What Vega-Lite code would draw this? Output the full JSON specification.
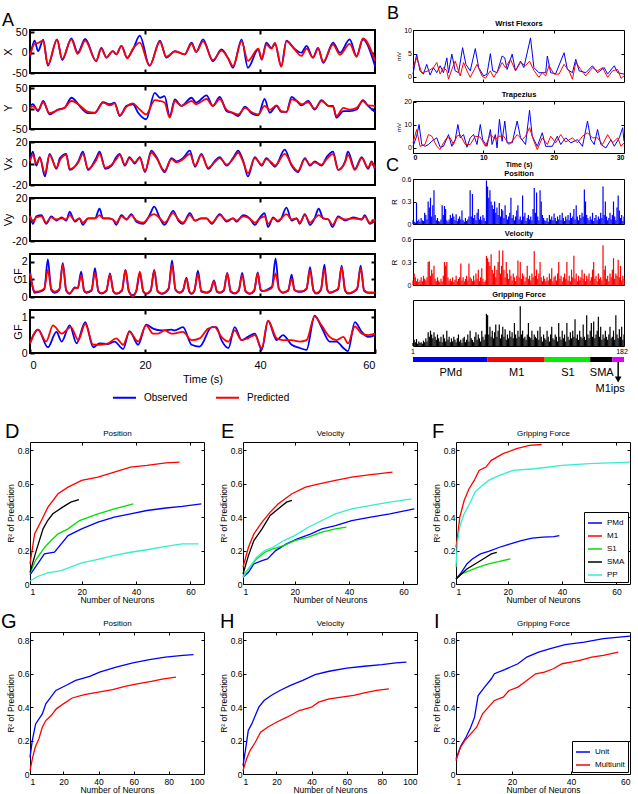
{
"$schema":"https://vega.github.io/schema/vega-lite/v6.json",
"padding":{"left":0,"top":4,"right":2,"bottom":2},
"config":{
 "font":"Liberation Sans",
 "view":{"stroke":"black","strokeWidth":1},
 "axis":{"grid":false,"domain":false,"tickColor":"black","labelColor":"black","titleColor":"black","titleFontWeight":"normal","labelFont":"Liberation Sans","titleFont":"Liberation Sans"},
 "title":{"fontWeight":"normal","color":"black","anchor":"start","frame":"group","fontSize":20,"font":"Liberation Sans","offset":0},
 "legend":{"labelFont":"Liberation Sans","labelColor":"black"}
},
"datasets":{
"aX":[{"t":0,"v":-12,"s":"O"},{"t":0.8,"v":30,"s":"O"},{"t":1.4,"v":4,"s":"O"},{"t":2.3,"v":32,"s":"O"},{"t":3.1,"v":-32,"s":"O"},{"t":4.7,"v":33,"s":"O"},{"t":5.6,"v":-18,"s":"O"},{"t":7.2,"v":35,"s":"O"},{"t":8.3,"v":0,"s":"O"},{"t":9.6,"v":34,"s":"O"},{"t":11.5,"v":-21,"s":"O"},{"t":12.4,"v":12,"s":"O"},{"t":13.3,"v":-12,"s":"O"},{"t":14.4,"v":4,"s":"O"},{"t":15,"v":-4,"s":"O"},{"t":15.9,"v":17,"s":"O"},{"t":16.9,"v":-12,"s":"O"},{"t":17.9,"v":8,"s":"O"},{"t":19.1,"v":42,"s":"O"},{"t":20.8,"v":-32,"s":"O"},{"t":22.6,"v":30,"s":"O"},{"t":23.7,"v":-12,"s":"O"},{"t":25.2,"v":4,"s":"O"},{"t":26.9,"v":-4,"s":"O"},{"t":28.1,"v":25,"s":"O"},{"t":28.9,"v":2,"s":"O"},{"t":30.1,"v":33,"s":"O"},{"t":31.8,"v":-21,"s":"O"},{"t":33.3,"v":8,"s":"O"},{"t":34.5,"v":-15,"s":"O"},{"t":35.3,"v":-37,"s":"O"},{"t":36.8,"v":33,"s":"O"},{"t":37.9,"v":-37,"s":"O"},{"t":39.7,"v":8,"s":"O"},{"t":40.3,"v":-17,"s":"O"},{"t":41.1,"v":25,"s":"O"},{"t":42,"v":12,"s":"O"},{"t":42.6,"v":22,"s":"O"},{"t":43.7,"v":-33,"s":"O"},{"t":44.6,"v":30,"s":"O"},{"t":46,"v":10,"s":"O"},{"t":47.2,"v":0,"s":"O"},{"t":48.1,"v":17,"s":"O"},{"t":49.2,"v":-12,"s":"O"},{"t":50.1,"v":12,"s":"O"},{"t":51,"v":-25,"s":"O"},{"t":52.7,"v":25,"s":"O"},{"t":53.9,"v":0,"s":"O"},{"t":55.6,"v":33,"s":"O"},{"t":56.8,"v":-8,"s":"O"},{"t":57.9,"v":33,"s":"O"},{"t":60,"v":-33,"s":"O"},
{"t":0,"v":-6,"s":"P"},{"t":0.8,"v":22,"s":"P"},{"t":1.4,"v":24,"s":"P"},{"t":2.3,"v":30,"s":"P"},{"t":3.1,"v":-30,"s":"P"},{"t":4.7,"v":32,"s":"P"},{"t":5.6,"v":-15,"s":"P"},{"t":7.2,"v":33,"s":"P"},{"t":8.3,"v":-3,"s":"P"},{"t":9.6,"v":30,"s":"P"},{"t":11.5,"v":-20,"s":"P"},{"t":12.4,"v":10,"s":"P"},{"t":13.3,"v":-12,"s":"P"},{"t":14.4,"v":4,"s":"P"},{"t":15,"v":-4,"s":"P"},{"t":15.9,"v":17,"s":"P"},{"t":16.9,"v":-14,"s":"P"},{"t":17.9,"v":10,"s":"P"},{"t":19.1,"v":25,"s":"P"},{"t":20.8,"v":-32,"s":"P"},{"t":22.6,"v":27,"s":"P"},{"t":23.7,"v":-10,"s":"P"},{"t":25.2,"v":3,"s":"P"},{"t":26.9,"v":-4,"s":"P"},{"t":28.1,"v":22,"s":"P"},{"t":28.9,"v":2,"s":"P"},{"t":30.1,"v":28,"s":"P"},{"t":31.8,"v":-18,"s":"P"},{"t":33.3,"v":5,"s":"P"},{"t":34.5,"v":-15,"s":"P"},{"t":35.3,"v":-33,"s":"P"},{"t":36.8,"v":28,"s":"P"},{"t":37.9,"v":-20,"s":"P"},{"t":39.7,"v":10,"s":"P"},{"t":40.3,"v":-15,"s":"P"},{"t":41.1,"v":20,"s":"P"},{"t":42,"v":10,"s":"P"},{"t":42.6,"v":25,"s":"P"},{"t":43.7,"v":-35,"s":"P"},{"t":44.6,"v":28,"s":"P"},{"t":46,"v":8,"s":"P"},{"t":47.2,"v":-8,"s":"P"},{"t":48.1,"v":10,"s":"P"},{"t":49.2,"v":-12,"s":"P"},{"t":50.1,"v":10,"s":"P"},{"t":51,"v":-22,"s":"P"},{"t":52.7,"v":20,"s":"P"},{"t":53.9,"v":-5,"s":"P"},{"t":55.6,"v":22,"s":"P"},{"t":56.8,"v":-10,"s":"P"},{"t":57.9,"v":35,"s":"P"},{"t":60,"v":-20,"s":"P"}],
"aY":[{"t":0,"v":7,"s":"O"},{"t":0.5,"v":11,"s":"O"},{"t":1.4,"v":-6,"s":"O"},{"t":2.3,"v":19,"s":"O"},{"t":3.4,"v":-14,"s":"O"},{"t":4.9,"v":-2,"s":"O"},{"t":6,"v":2,"s":"O"},{"t":7.2,"v":27,"s":"O"},{"t":8.4,"v":11,"s":"O"},{"t":8.9,"v":2,"s":"O"},{"t":10.1,"v":-11,"s":"O"},{"t":11.3,"v":-10,"s":"O"},{"t":12.7,"v":16,"s":"O"},{"t":13.9,"v":11,"s":"O"},{"t":14.7,"v":15,"s":"O"},{"t":15.6,"v":-18,"s":"O"},{"t":16.8,"v":7,"s":"O"},{"t":17.9,"v":11,"s":"O"},{"t":18.8,"v":-10,"s":"O"},{"t":20.2,"v":-26,"s":"O"},{"t":21.7,"v":39,"s":"O"},{"t":22.6,"v":27,"s":"O"},{"t":23.4,"v":31,"s":"O"},{"t":24.3,"v":-18,"s":"O"},{"t":25.2,"v":23,"s":"O"},{"t":26.3,"v":7,"s":"O"},{"t":28.1,"v":27,"s":"O"},{"t":28.9,"v":15,"s":"O"},{"t":30.7,"v":33,"s":"O"},{"t":31.8,"v":7,"s":"O"},{"t":33,"v":29,"s":"O"},{"t":34.2,"v":-6,"s":"O"},{"t":35.3,"v":-11,"s":"O"},{"t":36.2,"v":-18,"s":"O"},{"t":37.4,"v":5,"s":"O"},{"t":38.5,"v":-11,"s":"O"},{"t":39.7,"v":-16,"s":"O"},{"t":40.8,"v":24,"s":"O"},{"t":41.7,"v":-10,"s":"O"},{"t":42.9,"v":7,"s":"O"},{"t":43.7,"v":-8,"s":"O"},{"t":44.6,"v":-8,"s":"O"},{"t":45.5,"v":29,"s":"O"},{"t":46.4,"v":19,"s":"O"},{"t":47.2,"v":8,"s":"O"},{"t":48.4,"v":19,"s":"O"},{"t":49.5,"v":-2,"s":"O"},{"t":50.7,"v":21,"s":"O"},{"t":51.9,"v":7,"s":"O"},{"t":52.7,"v":7,"s":"O"},{"t":53.3,"v":-22,"s":"O"},{"t":54.5,"v":-6,"s":"O"},{"t":55.6,"v":-6,"s":"O"},{"t":56.8,"v":-2,"s":"O"},{"t":57.9,"v":21,"s":"O"},{"t":58.8,"v":7,"s":"O"},{"t":60,"v":-8,"s":"O"},
{"t":0,"v":2,"s":"P"},{"t":0.5,"v":6,"s":"P"},{"t":1.4,"v":-3,"s":"P"},{"t":2.3,"v":16,"s":"P"},{"t":3.4,"v":-11,"s":"P"},{"t":4.9,"v":-3,"s":"P"},{"t":6,"v":2,"s":"P"},{"t":7.2,"v":19,"s":"P"},{"t":8.4,"v":11,"s":"P"},{"t":8.9,"v":5,"s":"P"},{"t":10.1,"v":-8,"s":"P"},{"t":11.3,"v":-10,"s":"P"},{"t":12.7,"v":15,"s":"P"},{"t":13.9,"v":8,"s":"P"},{"t":14.7,"v":13,"s":"P"},{"t":15.6,"v":-16,"s":"P"},{"t":16.8,"v":5,"s":"P"},{"t":17.9,"v":13,"s":"P"},{"t":18.8,"v":2,"s":"P"},{"t":20.2,"v":-14,"s":"P"},{"t":21.7,"v":21,"s":"P"},{"t":22.6,"v":19,"s":"P"},{"t":23.4,"v":15,"s":"P"},{"t":24.3,"v":-22,"s":"P"},{"t":25.2,"v":19,"s":"P"},{"t":26.3,"v":7,"s":"P"},{"t":28.1,"v":19,"s":"P"},{"t":28.9,"v":11,"s":"P"},{"t":30.7,"v":24,"s":"P"},{"t":31.8,"v":7,"s":"P"},{"t":33,"v":24,"s":"P"},{"t":34.2,"v":-3,"s":"P"},{"t":35.3,"v":-10,"s":"P"},{"t":36.2,"v":-14,"s":"P"},{"t":37.4,"v":2,"s":"P"},{"t":38.5,"v":-8,"s":"P"},{"t":39.7,"v":-14,"s":"P"},{"t":40.8,"v":7,"s":"P"},{"t":41.7,"v":-3,"s":"P"},{"t":42.9,"v":8,"s":"P"},{"t":43.7,"v":-6,"s":"P"},{"t":44.6,"v":-8,"s":"P"},{"t":45.5,"v":23,"s":"P"},{"t":46.4,"v":19,"s":"P"},{"t":47.2,"v":11,"s":"P"},{"t":48.4,"v":16,"s":"P"},{"t":49.5,"v":0,"s":"P"},{"t":50.7,"v":19,"s":"P"},{"t":51.9,"v":7,"s":"P"},{"t":52.7,"v":5,"s":"P"},{"t":53.3,"v":-18,"s":"P"},{"t":54.5,"v":2,"s":"P"},{"t":55.6,"v":-2,"s":"P"},{"t":56.8,"v":2,"s":"P"},{"t":57.9,"v":19,"s":"P"},{"t":58.8,"v":8,"s":"P"},{"t":60,"v":7,"s":"P"}],
"aVx":[{"t":0,"v":3,"s":"O"},{"t":0.5,"v":11,"s":"O"},{"t":1.1,"v":-2,"s":"O"},{"t":1.7,"v":6,"s":"O"},{"t":2.6,"v":-12,"s":"O"},{"t":3.4,"v":9,"s":"O"},{"t":4.6,"v":-5,"s":"O"},{"t":5.2,"v":5,"s":"O"},{"t":6.3,"v":9,"s":"O"},{"t":6.9,"v":-6,"s":"O"},{"t":8.4,"v":2,"s":"O"},{"t":9.2,"v":11,"s":"O"},{"t":10.1,"v":-6,"s":"O"},{"t":11.5,"v":5,"s":"O"},{"t":12.1,"v":11,"s":"O"},{"t":13.1,"v":-5,"s":"O"},{"t":14.2,"v":-2,"s":"O"},{"t":15,"v":6,"s":"O"},{"t":15.6,"v":9,"s":"O"},{"t":16.5,"v":-2,"s":"O"},{"t":17.3,"v":6,"s":"O"},{"t":18.2,"v":0,"s":"O"},{"t":19.1,"v":6,"s":"O"},{"t":20,"v":-8,"s":"O"},{"t":21.1,"v":12,"s":"O"},{"t":22,"v":6,"s":"O"},{"t":23.4,"v":-8,"s":"O"},{"t":24.6,"v":5,"s":"O"},{"t":25.5,"v":2,"s":"O"},{"t":26.6,"v":5,"s":"O"},{"t":27.8,"v":12,"s":"O"},{"t":28.7,"v":-3,"s":"O"},{"t":29.8,"v":9,"s":"O"},{"t":31,"v":-5,"s":"O"},{"t":32.1,"v":2,"s":"O"},{"t":33,"v":6,"s":"O"},{"t":34.2,"v":-2,"s":"O"},{"t":35.3,"v":5,"s":"O"},{"t":36.2,"v":12,"s":"O"},{"t":37.1,"v":2,"s":"O"},{"t":37.9,"v":-12,"s":"O"},{"t":39.1,"v":6,"s":"O"},{"t":40.3,"v":-2,"s":"O"},{"t":41.1,"v":5,"s":"O"},{"t":42,"v":0,"s":"O"},{"t":42.6,"v":-3,"s":"O"},{"t":44.3,"v":13,"s":"O"},{"t":45.5,"v":-2,"s":"O"},{"t":46.6,"v":-8,"s":"O"},{"t":47.8,"v":5,"s":"O"},{"t":48.7,"v":-2,"s":"O"},{"t":49.5,"v":2,"s":"O"},{"t":50.7,"v":-2,"s":"O"},{"t":51.6,"v":6,"s":"O"},{"t":52.7,"v":11,"s":"O"},{"t":53.6,"v":-6,"s":"O"},{"t":54.8,"v":2,"s":"O"},{"t":55.3,"v":11,"s":"O"},{"t":56.5,"v":-5,"s":"O"},{"t":57.7,"v":6,"s":"O"},{"t":58.8,"v":-5,"s":"O"},{"t":59.4,"v":2,"s":"O"},{"t":60,"v":-6,"s":"O"},
{"t":0,"v":2,"s":"P"},{"t":0.5,"v":8,"s":"P"},{"t":1.1,"v":0,"s":"P"},{"t":1.7,"v":5,"s":"P"},{"t":2.6,"v":-9,"s":"P"},{"t":3.4,"v":8,"s":"P"},{"t":4.6,"v":-4,"s":"P"},{"t":5.2,"v":3,"s":"P"},{"t":6.3,"v":8,"s":"P"},{"t":6.9,"v":-5,"s":"P"},{"t":8.4,"v":1,"s":"P"},{"t":9.2,"v":9,"s":"P"},{"t":10.1,"v":-5,"s":"P"},{"t":11.5,"v":3,"s":"P"},{"t":12.1,"v":9,"s":"P"},{"t":13.1,"v":-4,"s":"P"},{"t":14.2,"v":-1,"s":"P"},{"t":15,"v":4,"s":"P"},{"t":15.6,"v":8,"s":"P"},{"t":16.5,"v":-1,"s":"P"},{"t":17.3,"v":5,"s":"P"},{"t":18.2,"v":1,"s":"P"},{"t":19.1,"v":5,"s":"P"},{"t":20,"v":-7,"s":"P"},{"t":21.1,"v":10,"s":"P"},{"t":22,"v":5,"s":"P"},{"t":23.4,"v":-7,"s":"P"},{"t":24.6,"v":4,"s":"P"},{"t":25.5,"v":1,"s":"P"},{"t":26.6,"v":4,"s":"P"},{"t":27.8,"v":9,"s":"P"},{"t":28.7,"v":-2,"s":"P"},{"t":29.8,"v":8,"s":"P"},{"t":31,"v":-4,"s":"P"},{"t":32.1,"v":1,"s":"P"},{"t":33,"v":5,"s":"P"},{"t":34.2,"v":-1,"s":"P"},{"t":35.3,"v":4,"s":"P"},{"t":36.2,"v":10,"s":"P"},{"t":37.1,"v":1,"s":"P"},{"t":37.9,"v":-9,"s":"P"},{"t":39.1,"v":5,"s":"P"},{"t":40.3,"v":-1,"s":"P"},{"t":41.1,"v":4,"s":"P"},{"t":42,"v":1,"s":"P"},{"t":42.6,"v":-2,"s":"P"},{"t":44.3,"v":9,"s":"P"},{"t":45.5,"v":-1,"s":"P"},{"t":46.6,"v":-7,"s":"P"},{"t":47.8,"v":4,"s":"P"},{"t":48.7,"v":-1,"s":"P"},{"t":49.5,"v":1,"s":"P"},{"t":50.7,"v":-1,"s":"P"},{"t":51.6,"v":4,"s":"P"},{"t":52.7,"v":9,"s":"P"},{"t":53.6,"v":-6,"s":"P"},{"t":54.8,"v":1,"s":"P"},{"t":55.3,"v":8,"s":"P"},{"t":56.5,"v":-6,"s":"P"},{"t":57.7,"v":5,"s":"P"},{"t":58.8,"v":-4,"s":"P"},{"t":59.4,"v":1,"s":"P"},{"t":60,"v":-4,"s":"P"}],
"aVy":[{"t":0,"v":4,"s":"O"},{"t":0.5,"v":-4,"s":"O"},{"t":1.1,"v":3,"s":"O"},{"t":2,"v":4,"s":"O"},{"t":2.8,"v":-4,"s":"O"},{"t":3.7,"v":3,"s":"O"},{"t":4.6,"v":-1,"s":"O"},{"t":5.5,"v":2,"s":"O"},{"t":6.3,"v":-1,"s":"O"},{"t":6.9,"v":7,"s":"O"},{"t":7.8,"v":-2,"s":"O"},{"t":8.6,"v":1,"s":"O"},{"t":9.2,"v":-5,"s":"O"},{"t":10.1,"v":1,"s":"O"},{"t":11.3,"v":1,"s":"O"},{"t":12.1,"v":10,"s":"O"},{"t":12.7,"v":1,"s":"O"},{"t":13.6,"v":1,"s":"O"},{"t":14.4,"v":0,"s":"O"},{"t":15,"v":-5,"s":"O"},{"t":15.9,"v":4,"s":"O"},{"t":16.8,"v":0,"s":"O"},{"t":17.6,"v":5,"s":"O"},{"t":18.5,"v":-2,"s":"O"},{"t":19.7,"v":-4,"s":"O"},{"t":20.8,"v":4,"s":"O"},{"t":21.6,"v":12,"s":"O"},{"t":22.6,"v":1,"s":"O"},{"t":23.4,"v":-5,"s":"O"},{"t":24.9,"v":8,"s":"O"},{"t":25.8,"v":-1,"s":"O"},{"t":26.6,"v":-4,"s":"O"},{"t":27.8,"v":6,"s":"O"},{"t":28.7,"v":-1,"s":"O"},{"t":29.8,"v":1,"s":"O"},{"t":30.7,"v":1,"s":"O"},{"t":31.6,"v":-4,"s":"O"},{"t":33,"v":5,"s":"O"},{"t":34.2,"v":-2,"s":"O"},{"t":35.3,"v":1,"s":"O"},{"t":35.9,"v":-2,"s":"O"},{"t":37.1,"v":4,"s":"O"},{"t":38.2,"v":1,"s":"O"},{"t":39.1,"v":-5,"s":"O"},{"t":40,"v":2,"s":"O"},{"t":40.8,"v":6,"s":"O"},{"t":41.4,"v":-7,"s":"O"},{"t":42.3,"v":2,"s":"O"},{"t":43.1,"v":-2,"s":"O"},{"t":43.7,"v":1,"s":"O"},{"t":44.6,"v":11,"s":"O"},{"t":45.5,"v":-1,"s":"O"},{"t":46.4,"v":1,"s":"O"},{"t":46.9,"v":-4,"s":"O"},{"t":47.8,"v":5,"s":"O"},{"t":48.7,"v":-5,"s":"O"},{"t":49.5,"v":1,"s":"O"},{"t":50.2,"v":10,"s":"O"},{"t":51,"v":1,"s":"O"},{"t":51.9,"v":0,"s":"O"},{"t":52.6,"v":-7,"s":"O"},{"t":53.6,"v":3,"s":"O"},{"t":54.8,"v":-1,"s":"O"},{"t":56.2,"v":2,"s":"O"},{"t":57.7,"v":0,"s":"O"},{"t":58.2,"v":4,"s":"O"},{"t":59.1,"v":-4,"s":"O"},{"t":60,"v":-1,"s":"O"},
{"t":0,"v":3,"s":"P"},{"t":0.5,"v":-2,"s":"P"},{"t":1.1,"v":2,"s":"P"},{"t":2,"v":3,"s":"P"},{"t":2.8,"v":-3,"s":"P"},{"t":3.7,"v":2,"s":"P"},{"t":4.6,"v":0,"s":"P"},{"t":5.5,"v":1,"s":"P"},{"t":6.3,"v":0,"s":"P"},{"t":6.9,"v":4,"s":"P"},{"t":7.8,"v":-1,"s":"P"},{"t":8.6,"v":1,"s":"P"},{"t":9.2,"v":-3,"s":"P"},{"t":10.1,"v":1,"s":"P"},{"t":11.3,"v":1,"s":"P"},{"t":12.1,"v":4,"s":"P"},{"t":12.7,"v":1,"s":"P"},{"t":13.6,"v":1,"s":"P"},{"t":14.4,"v":0,"s":"P"},{"t":15,"v":-3,"s":"P"},{"t":15.9,"v":3,"s":"P"},{"t":16.8,"v":0,"s":"P"},{"t":17.6,"v":4,"s":"P"},{"t":18.5,"v":-1,"s":"P"},{"t":19.7,"v":-3,"s":"P"},{"t":20.8,"v":3,"s":"P"},{"t":21.6,"v":5,"s":"P"},{"t":22.6,"v":1,"s":"P"},{"t":23.4,"v":-3,"s":"P"},{"t":24.9,"v":6,"s":"P"},{"t":25.8,"v":0,"s":"P"},{"t":26.6,"v":-3,"s":"P"},{"t":27.8,"v":4,"s":"P"},{"t":28.7,"v":-1,"s":"P"},{"t":29.8,"v":1,"s":"P"},{"t":30.7,"v":1,"s":"P"},{"t":31.6,"v":-3,"s":"P"},{"t":33,"v":4,"s":"P"},{"t":34.2,"v":-1,"s":"P"},{"t":35.3,"v":1,"s":"P"},{"t":35.9,"v":-1,"s":"P"},{"t":37.1,"v":3,"s":"P"},{"t":38.2,"v":1,"s":"P"},{"t":39.1,"v":-3,"s":"P"},{"t":40,"v":1,"s":"P"},{"t":40.8,"v":3,"s":"P"},{"t":41.4,"v":-4,"s":"P"},{"t":42.3,"v":1,"s":"P"},{"t":43.1,"v":-1,"s":"P"},{"t":43.7,"v":1,"s":"P"},{"t":44.6,"v":5,"s":"P"},{"t":45.5,"v":0,"s":"P"},{"t":46.4,"v":1,"s":"P"},{"t":46.9,"v":-3,"s":"P"},{"t":47.8,"v":4,"s":"P"},{"t":48.7,"v":-3,"s":"P"},{"t":49.5,"v":1,"s":"P"},{"t":50.2,"v":4,"s":"P"},{"t":51,"v":1,"s":"P"},{"t":51.9,"v":0,"s":"P"},{"t":52.6,"v":-5,"s":"P"},{"t":53.6,"v":2,"s":"P"},{"t":54.8,"v":0,"s":"P"},{"t":56.2,"v":1,"s":"P"},{"t":57.7,"v":0,"s":"P"},{"t":58.2,"v":3,"s":"P"},{"t":59.1,"v":-3,"s":"P"},{"t":60,"v":0,"s":"P"}],
"aG1":[{"t":0,"v":1.44,"s":"O"},{"t":0.5,"v":0.5,"s":"O"},{"t":0.8,"v":0.24,"s":"O"},{"t":1.7,"v":0.3,"s":"O"},{"t":2.5,"v":0.45,"s":"O"},{"t":3.1,"v":2.14,"s":"O"},{"t":3.7,"v":0.4,"s":"O"},{"t":4.3,"v":0.24,"s":"O"},{"t":5.1,"v":0.4,"s":"O"},{"t":5.7,"v":1.94,"s":"O"},{"t":6.3,"v":0.35,"s":"O"},{"t":6.9,"v":0.18,"s":"O"},{"t":7.8,"v":0.54,"s":"O"},{"t":8.3,"v":0.5,"s":"O"},{"t":8.9,"v":1.44,"s":"O"},{"t":9.4,"v":0.35,"s":"O"},{"t":9.8,"v":0.24,"s":"O"},{"t":10.7,"v":0.35,"s":"O"},{"t":11.3,"v":1.64,"s":"O"},{"t":11.9,"v":0.3,"s":"O"},{"t":12.4,"v":0.2,"s":"O"},{"t":13.3,"v":0.35,"s":"O"},{"t":13.9,"v":1.34,"s":"O"},{"t":14.5,"v":0.3,"s":"O"},{"t":15,"v":0.18,"s":"O"},{"t":16,"v":0.35,"s":"O"},{"t":16.6,"v":1.54,"s":"O"},{"t":17.2,"v":0.3,"s":"O"},{"t":17.9,"v":0.1,"s":"O"},{"t":18.5,"v":0.35,"s":"O"},{"t":19.1,"v":1.38,"s":"O"},{"t":19.7,"v":0.3,"s":"O"},{"t":20.2,"v":0.18,"s":"O"},{"t":21,"v":0.35,"s":"O"},{"t":21.6,"v":1.54,"s":"O"},{"t":22.2,"v":0.3,"s":"O"},{"t":22.9,"v":0.18,"s":"O"},{"t":24.1,"v":0.45,"s":"O"},{"t":24.7,"v":2.08,"s":"O"},{"t":25.3,"v":0.4,"s":"O"},{"t":26,"v":0.24,"s":"O"},{"t":26.6,"v":0.35,"s":"O"},{"t":27.2,"v":1.1,"s":"O"},{"t":27.7,"v":0.3,"s":"O"},{"t":28.1,"v":0.18,"s":"O"},{"t":28.6,"v":0.35,"s":"O"},{"t":29.2,"v":1.5,"s":"O"},{"t":29.8,"v":0.3,"s":"O"},{"t":30.7,"v":0.24,"s":"O"},{"t":31.4,"v":0.35,"s":"O"},{"t":32,"v":0.94,"s":"O"},{"t":32.5,"v":0.3,"s":"O"},{"t":33,"v":0.24,"s":"O"},{"t":33.7,"v":0.35,"s":"O"},{"t":34.3,"v":1.38,"s":"O"},{"t":34.9,"v":0.3,"s":"O"},{"t":35.6,"v":0.2,"s":"O"},{"t":36.3,"v":0.35,"s":"O"},{"t":36.9,"v":1.38,"s":"O"},{"t":37.5,"v":0.3,"s":"O"},{"t":38.2,"v":0.18,"s":"O"},{"t":39,"v":0.35,"s":"O"},{"t":39.6,"v":1.4,"s":"O"},{"t":40.1,"v":0.4,"s":"O"},{"t":40.5,"v":0.34,"s":"O"},{"t":41.7,"v":0.5,"s":"O"},{"t":42.1,"v":0.6,"s":"O"},{"t":42.7,"v":2.2,"s":"O"},{"t":43.3,"v":0.45,"s":"O"},{"t":44,"v":0.24,"s":"O"},{"t":44.9,"v":0.35,"s":"O"},{"t":45.5,"v":1.28,"s":"O"},{"t":46,"v":0.4,"s":"O"},{"t":46.6,"v":0.3,"s":"O"},{"t":47.2,"v":0.3,"s":"O"},{"t":48.1,"v":0.45,"s":"O"},{"t":48.7,"v":1.7,"s":"O"},{"t":49.3,"v":0.35,"s":"O"},{"t":49.8,"v":0.2,"s":"O"},{"t":50.6,"v":0.4,"s":"O"},{"t":51.2,"v":1.84,"s":"O"},{"t":51.7,"v":0.4,"s":"O"},{"t":52.1,"v":0.24,"s":"O"},{"t":53,"v":0.34,"s":"O"},{"t":53.6,"v":0.45,"s":"O"},{"t":54.2,"v":1.78,"s":"O"},{"t":54.8,"v":0.35,"s":"O"},{"t":55.3,"v":0.2,"s":"O"},{"t":56.2,"v":0.28,"s":"O"},{"t":56.9,"v":0.45,"s":"O"},{"t":57.5,"v":1.78,"s":"O"},{"t":58.1,"v":0.35,"s":"O"},{"t":58.8,"v":0.24,"s":"O"},{"t":60,"v":0.24,"s":"O"},
{"t":0,"v":1.34,"s":"P"},{"t":0.5,"v":0.55,"s":"P"},{"t":0.8,"v":0.3,"s":"P"},{"t":1.7,"v":0.34,"s":"P"},{"t":2.5,"v":0.5,"s":"P"},{"t":3.1,"v":1.54,"s":"P"},{"t":3.7,"v":0.45,"s":"P"},{"t":4.3,"v":0.3,"s":"P"},{"t":5.1,"v":0.45,"s":"P"},{"t":5.7,"v":1.84,"s":"P"},{"t":6.3,"v":0.4,"s":"P"},{"t":6.9,"v":0.22,"s":"P"},{"t":7.8,"v":0.5,"s":"P"},{"t":8.3,"v":0.5,"s":"P"},{"t":8.9,"v":1.24,"s":"P"},{"t":9.4,"v":0.4,"s":"P"},{"t":9.8,"v":0.28,"s":"P"},{"t":10.7,"v":0.4,"s":"P"},{"t":11.3,"v":1.38,"s":"P"},{"t":11.9,"v":0.35,"s":"P"},{"t":12.4,"v":0.22,"s":"P"},{"t":13.3,"v":0.4,"s":"P"},{"t":13.9,"v":1.28,"s":"P"},{"t":14.5,"v":0.35,"s":"P"},{"t":15,"v":0.2,"s":"P"},{"t":16,"v":0.4,"s":"P"},{"t":16.6,"v":1.54,"s":"P"},{"t":17.2,"v":0.35,"s":"P"},{"t":17.9,"v":0.04,"s":"P"},{"t":18.5,"v":0.4,"s":"P"},{"t":19.1,"v":1.44,"s":"P"},{"t":19.7,"v":0.35,"s":"P"},{"t":20.2,"v":0.2,"s":"P"},{"t":21,"v":0.4,"s":"P"},{"t":21.6,"v":1.5,"s":"P"},{"t":22.2,"v":0.35,"s":"P"},{"t":22.9,"v":0.2,"s":"P"},{"t":24.1,"v":0.5,"s":"P"},{"t":24.7,"v":1.84,"s":"P"},{"t":25.3,"v":0.45,"s":"P"},{"t":26,"v":0.26,"s":"P"},{"t":26.6,"v":0.4,"s":"P"},{"t":27.2,"v":1.04,"s":"P"},{"t":27.7,"v":0.35,"s":"P"},{"t":28.1,"v":0.2,"s":"P"},{"t":28.6,"v":0.4,"s":"P"},{"t":29.2,"v":1.3,"s":"P"},{"t":29.8,"v":0.35,"s":"P"},{"t":30.7,"v":0.26,"s":"P"},{"t":31.4,"v":0.4,"s":"P"},{"t":32,"v":0.9,"s":"P"},{"t":32.5,"v":0.35,"s":"P"},{"t":33,"v":0.26,"s":"P"},{"t":33.7,"v":0.4,"s":"P"},{"t":34.3,"v":1.34,"s":"P"},{"t":34.9,"v":0.35,"s":"P"},{"t":35.6,"v":0.22,"s":"P"},{"t":36.3,"v":0.4,"s":"P"},{"t":36.9,"v":1.24,"s":"P"},{"t":37.5,"v":0.35,"s":"P"},{"t":38.2,"v":0.2,"s":"P"},{"t":39,"v":0.4,"s":"P"},{"t":39.6,"v":1.34,"s":"P"},{"t":40.1,"v":0.45,"s":"P"},{"t":40.5,"v":0.34,"s":"P"},{"t":41.7,"v":0.44,"s":"P"},{"t":42.1,"v":0.55,"s":"P"},{"t":42.7,"v":1.34,"s":"P"},{"t":43.3,"v":0.45,"s":"P"},{"t":44,"v":0.26,"s":"P"},{"t":44.9,"v":0.4,"s":"P"},{"t":45.5,"v":1.04,"s":"P"},{"t":46,"v":0.4,"s":"P"},{"t":46.6,"v":0.32,"s":"P"},{"t":47.2,"v":0.32,"s":"P"},{"t":48.1,"v":0.5,"s":"P"},{"t":48.7,"v":1.54,"s":"P"},{"t":49.3,"v":0.4,"s":"P"},{"t":49.8,"v":0.22,"s":"P"},{"t":50.6,"v":0.45,"s":"P"},{"t":51.2,"v":1.6,"s":"P"},{"t":51.7,"v":0.45,"s":"P"},{"t":52.1,"v":0.26,"s":"P"},{"t":53,"v":0.34,"s":"P"},{"t":53.6,"v":0.5,"s":"P"},{"t":54.2,"v":1.7,"s":"P"},{"t":54.8,"v":0.4,"s":"P"},{"t":55.3,"v":0.22,"s":"P"},{"t":56.2,"v":0.3,"s":"P"},{"t":56.9,"v":0.5,"s":"P"},{"t":57.5,"v":1.64,"s":"P"},{"t":58.1,"v":0.4,"s":"P"},{"t":58.8,"v":0.26,"s":"P"},{"t":60,"v":0.26,"s":"P"}],
"aG2":[{"t":0,"v":0.27,"s":"O"},{"t":1.4,"v":0.65,"s":"O"},{"t":3.1,"v":0.16,"s":"O"},{"t":4.6,"v":0.59,"s":"O"},{"t":5.5,"v":0.32,"s":"O"},{"t":6.9,"v":0.77,"s":"O"},{"t":8.1,"v":0.27,"s":"O"},{"t":9.6,"v":0.86,"s":"O"},{"t":11,"v":0.16,"s":"O"},{"t":12.1,"v":0.27,"s":"O"},{"t":13.6,"v":0.25,"s":"O"},{"t":14.7,"v":0.32,"s":"O"},{"t":16.2,"v":0.11,"s":"O"},{"t":17.3,"v":0.61,"s":"O"},{"t":18.8,"v":0.23,"s":"O"},{"t":20.2,"v":0.79,"s":"O"},{"t":21.4,"v":0.68,"s":"O"},{"t":22.9,"v":0.63,"s":"O"},{"t":24.6,"v":0.65,"s":"O"},{"t":25.2,"v":0.63,"s":"O"},{"t":26.6,"v":0.72,"s":"O"},{"t":28.1,"v":0.23,"s":"O"},{"t":29.5,"v":0.18,"s":"O"},{"t":31.6,"v":0.72,"s":"O"},{"t":32.4,"v":0.72,"s":"O"},{"t":33.3,"v":0.36,"s":"O"},{"t":34.5,"v":0.14,"s":"O"},{"t":35.6,"v":0.72,"s":"O"},{"t":36.8,"v":0.36,"s":"O"},{"t":37.9,"v":0.45,"s":"O"},{"t":39.1,"v":0.54,"s":"O"},{"t":40.3,"v":0.09,"s":"O"},{"t":41.4,"v":0.9,"s":"O"},{"t":42.9,"v":0.36,"s":"O"},{"t":44,"v":0.5,"s":"O"},{"t":45.5,"v":0.23,"s":"O"},{"t":46.9,"v":0.14,"s":"O"},{"t":48.1,"v":0.09,"s":"O"},{"t":49.5,"v":1.04,"s":"O"},{"t":50.7,"v":0.72,"s":"O"},{"t":52.1,"v":0.32,"s":"O"},{"t":53.3,"v":0.32,"s":"O"},{"t":54.5,"v":0.14,"s":"O"},{"t":55.3,"v":0.05,"s":"O"},{"t":56.5,"v":0.86,"s":"O"},{"t":57.7,"v":0.59,"s":"O"},{"t":58.8,"v":0.45,"s":"O"},{"t":60,"v":0.5,"s":"O"},
{"t":0,"v":0.27,"s":"P"},{"t":1.4,"v":0.65,"s":"P"},{"t":2.8,"v":0.32,"s":"P"},{"t":4,"v":0.77,"s":"P"},{"t":5.5,"v":0.54,"s":"P"},{"t":7.1,"v":0.72,"s":"P"},{"t":8.4,"v":0.36,"s":"P"},{"t":9.6,"v":0.81,"s":"P"},{"t":11,"v":0.23,"s":"P"},{"t":12.1,"v":0.23,"s":"P"},{"t":13.6,"v":0.27,"s":"P"},{"t":15,"v":0.41,"s":"P"},{"t":16.2,"v":0.23,"s":"P"},{"t":17.3,"v":0.59,"s":"P"},{"t":18.8,"v":0.32,"s":"P"},{"t":20.2,"v":0.77,"s":"P"},{"t":21.4,"v":0.54,"s":"P"},{"t":22.3,"v":0.54,"s":"P"},{"t":23.4,"v":0.63,"s":"P"},{"t":24.6,"v":0.54,"s":"P"},{"t":26.6,"v":0.59,"s":"P"},{"t":28.1,"v":0.36,"s":"P"},{"t":29.5,"v":0.41,"s":"P"},{"t":31,"v":0.68,"s":"P"},{"t":32.1,"v":0.72,"s":"P"},{"t":33.3,"v":0.45,"s":"P"},{"t":34.5,"v":0.32,"s":"P"},{"t":35.6,"v":0.63,"s":"P"},{"t":36.8,"v":0.36,"s":"P"},{"t":37.9,"v":0.41,"s":"P"},{"t":39.1,"v":0.5,"s":"P"},{"t":40.3,"v":0.14,"s":"P"},{"t":41.4,"v":0.9,"s":"P"},{"t":42.9,"v":0.41,"s":"P"},{"t":44,"v":0.36,"s":"P"},{"t":45.5,"v":0.36,"s":"P"},{"t":46.9,"v":0.32,"s":"P"},{"t":48.1,"v":0.36,"s":"P"},{"t":49.5,"v":1.02,"s":"P"},{"t":50.7,"v":0.77,"s":"P"},{"t":52.1,"v":0.45,"s":"P"},{"t":53.3,"v":0.36,"s":"P"},{"t":54.5,"v":0.45,"s":"P"},{"t":55.3,"v":0.27,"s":"P"},{"t":56.5,"v":0.74,"s":"P"},{"t":57.7,"v":0.54,"s":"P"},{"t":58.8,"v":0.5,"s":"P"},{"t":60,"v":0.54,"s":"P"}],
"bW":[{"t":0,"v":0.6,"s":"O"},{"t":0.52,"v":4.9,"s":"O"},{"t":1,"v":1.3,"s":"O"},{"t":1.48,"v":0.6,"s":"O"},{"t":1.95,"v":2.7,"s":"O"},{"t":2.43,"v":0.4,"s":"O"},{"t":2.9,"v":2,"s":"O"},{"t":3.38,"v":0.9,"s":"O"},{"t":3.86,"v":2.4,"s":"O"},{"t":4.33,"v":0.9,"s":"O"},{"t":4.81,"v":4.1,"s":"O"},{"t":5.05,"v":0.9,"s":"O"},{"t":5.52,"v":4.9,"s":"O"},{"t":6,"v":1.3,"s":"O"},{"t":6.48,"v":0.9,"s":"O"},{"t":7.05,"v":6.3,"s":"O"},{"t":7.52,"v":2.7,"s":"O"},{"t":8.14,"v":1.3,"s":"O"},{"t":8.86,"v":6.1,"s":"O"},{"t":9.33,"v":2,"s":"O"},{"t":10.05,"v":0.2,"s":"O"},{"t":10.52,"v":0.6,"s":"O"},{"t":11,"v":5,"s":"O"},{"t":11.33,"v":1.3,"s":"O"},{"t":11.95,"v":0.9,"s":"O"},{"t":12.67,"v":4.5,"s":"O"},{"t":13.05,"v":4.1,"s":"O"},{"t":13.38,"v":1.6,"s":"O"},{"t":14.1,"v":4.9,"s":"O"},{"t":14.57,"v":1.3,"s":"O"},{"t":15.29,"v":3.4,"s":"O"},{"t":15.76,"v":2,"s":"O"},{"t":16.71,"v":8.4,"s":"O"},{"t":17.19,"v":2,"s":"O"},{"t":17.9,"v":0.9,"s":"O"},{"t":18.86,"v":0.9,"s":"O"},{"t":19.1,"v":4.5,"s":"O"},{"t":19.57,"v":0.9,"s":"O"},{"t":20.29,"v":0.7,"s":"O"},{"t":21.48,"v":5.2,"s":"O"},{"t":21.95,"v":1.6,"s":"O"},{"t":22.67,"v":0.9,"s":"O"},{"t":23.14,"v":3.8,"s":"O"},{"t":23.62,"v":1.3,"s":"O"},{"t":24.57,"v":0.9,"s":"O"},{"t":25.52,"v":2.4,"s":"O"},{"t":26.24,"v":0.9,"s":"O"},{"t":27.19,"v":2,"s":"O"},{"t":27.67,"v":0.6,"s":"O"},{"t":28.62,"v":2.4,"s":"O"},{"t":29.1,"v":0.9,"s":"O"},{"t":30,"v":0.6,"s":"O"},
{"t":0,"v":2,"s":"P"},{"t":0.52,"v":4.1,"s":"P"},{"t":1.24,"v":0.9,"s":"P"},{"t":2.19,"v":1.3,"s":"P"},{"t":2.9,"v":2,"s":"P"},{"t":3.38,"v":3.1,"s":"P"},{"t":3.86,"v":0.6,"s":"P"},{"t":4.33,"v":2,"s":"P"},{"t":4.81,"v":1.3,"s":"P"},{"t":5.05,"v":-0.5,"s":"P"},{"t":5.52,"v":1.6,"s":"P"},{"t":6,"v":3.4,"s":"P"},{"t":6.71,"v":0.2,"s":"P"},{"t":7.19,"v":3.1,"s":"P"},{"t":7.67,"v":1.3,"s":"P"},{"t":8.14,"v":-0.1,"s":"P"},{"t":9.1,"v":2.7,"s":"P"},{"t":9.81,"v":0.2,"s":"P"},{"t":10.29,"v":-0.3,"s":"P"},{"t":11,"v":1.3,"s":"P"},{"t":11.48,"v":-0.1,"s":"P"},{"t":12.19,"v":1.6,"s":"P"},{"t":12.67,"v":3.1,"s":"P"},{"t":13.14,"v":2,"s":"P"},{"t":13.86,"v":3.8,"s":"P"},{"t":14.57,"v":1.3,"s":"P"},{"t":15.29,"v":3.1,"s":"P"},{"t":16,"v":2.4,"s":"P"},{"t":16.57,"v":3.4,"s":"P"},{"t":17.19,"v":1.4,"s":"P"},{"t":17.9,"v":-0.1,"s":"P"},{"t":18.38,"v":0.9,"s":"P"},{"t":18.86,"v":0.2,"s":"P"},{"t":19.33,"v":2.4,"s":"P"},{"t":20.05,"v":0.6,"s":"P"},{"t":20.76,"v":0.6,"s":"P"},{"t":21.48,"v":2.7,"s":"P"},{"t":22.19,"v":1.3,"s":"P"},{"t":22.67,"v":-0.5,"s":"P"},{"t":23.14,"v":3.1,"s":"P"},{"t":23.86,"v":1.6,"s":"P"},{"t":24.57,"v":0.2,"s":"P"},{"t":25.52,"v":2,"s":"P"},{"t":26.24,"v":1.3,"s":"P"},{"t":26.95,"v":2,"s":"P"},{"t":27.67,"v":-0.1,"s":"P"},{"t":28.38,"v":1.3,"s":"P"},{"t":29.1,"v":1.6,"s":"P"},{"t":29.57,"v":-0.3,"s":"P"},{"t":30,"v":0.2,"s":"P"}],
"bT":[{"t":0,"v":0.7,"s":"O"},{"t":0.52,"v":5.1,"s":"O"},{"t":0.86,"v":10.2,"s":"O"},{"t":1.24,"v":1.5,"s":"O"},{"t":1.71,"v":0.7,"s":"O"},{"t":2.19,"v":1.5,"s":"O"},{"t":2.67,"v":2.9,"s":"O"},{"t":3.38,"v":4.4,"s":"O"},{"t":3.86,"v":0.3,"s":"O"},{"t":4.33,"v":0.7,"s":"O"},{"t":5.05,"v":5.8,"s":"O"},{"t":5.52,"v":0.7,"s":"O"},{"t":6,"v":3.6,"s":"O"},{"t":6.38,"v":10.2,"s":"O"},{"t":6.71,"v":4.4,"s":"O"},{"t":7.19,"v":5.8,"s":"O"},{"t":7.67,"v":0.3,"s":"O"},{"t":8.14,"v":4.4,"s":"O"},{"t":8.62,"v":5.8,"s":"O"},{"t":9.1,"v":1.5,"s":"O"},{"t":9.57,"v":10.2,"s":"O"},{"t":9.9,"v":3.6,"s":"O"},{"t":10.52,"v":0.7,"s":"O"},{"t":11,"v":8,"s":"O"},{"t":11.24,"v":1.5,"s":"O"},{"t":11.71,"v":5.8,"s":"O"},{"t":11.95,"v":0,"s":"O"},{"t":12.29,"v":12.4,"s":"O"},{"t":12.67,"v":2.9,"s":"O"},{"t":13.05,"v":11.7,"s":"O"},{"t":13.38,"v":2.2,"s":"O"},{"t":14.1,"v":2.2,"s":"O"},{"t":14.81,"v":11.7,"s":"O"},{"t":15.29,"v":4.4,"s":"O"},{"t":16,"v":1.5,"s":"O"},{"t":16.57,"v":16.4,"s":"O"},{"t":16.95,"v":5.1,"s":"O"},{"t":17.67,"v":0.7,"s":"O"},{"t":18.38,"v":6.6,"s":"O"},{"t":18.86,"v":0.7,"s":"O"},{"t":19.81,"v":0.7,"s":"O"},{"t":20.52,"v":5.1,"s":"O"},{"t":21,"v":1.5,"s":"O"},{"t":21.71,"v":4.4,"s":"O"},{"t":22.43,"v":2.2,"s":"O"},{"t":23.38,"v":3.6,"s":"O"},{"t":24.1,"v":0.7,"s":"O"},{"t":24.81,"v":11.7,"s":"O"},{"t":25.29,"v":3.6,"s":"O"},{"t":25.76,"v":1.5,"s":"O"},{"t":26.24,"v":8,"s":"O"},{"t":26.71,"v":1.5,"s":"O"},{"t":27.43,"v":0,"s":"O"},{"t":28.14,"v":3.6,"s":"O"},{"t":28.62,"v":0.7,"s":"O"},{"t":29.33,"v":4.4,"s":"O"},{"t":29.81,"v":8.8,"s":"O"},{"t":30,"v":2.9,"s":"O"},
{"t":0,"v":2.2,"s":"P"},{"t":0.52,"v":8,"s":"P"},{"t":1,"v":0.7,"s":"P"},{"t":1.71,"v":1.5,"s":"P"},{"t":2.19,"v":5.8,"s":"P"},{"t":2.67,"v":5.1,"s":"P"},{"t":3.38,"v":0.7,"s":"P"},{"t":3.86,"v":-0.7,"s":"P"},{"t":4.33,"v":2.2,"s":"P"},{"t":4.81,"v":4.4,"s":"P"},{"t":5.29,"v":4.4,"s":"P"},{"t":5.76,"v":1.5,"s":"P"},{"t":6.24,"v":5.1,"s":"P"},{"t":6.71,"v":5.8,"s":"P"},{"t":7.43,"v":1.5,"s":"P"},{"t":8.14,"v":1.5,"s":"P"},{"t":8.86,"v":5.1,"s":"P"},{"t":9.57,"v":4.7,"s":"P"},{"t":10.29,"v":0.7,"s":"P"},{"t":11,"v":5.8,"s":"P"},{"t":11.71,"v":3.6,"s":"P"},{"t":12.19,"v":5.1,"s":"P"},{"t":12.9,"v":5.1,"s":"P"},{"t":13.62,"v":1.5,"s":"P"},{"t":14.1,"v":2.9,"s":"P"},{"t":14.81,"v":5.8,"s":"P"},{"t":15.52,"v":3.6,"s":"P"},{"t":16,"v":5.1,"s":"P"},{"t":16.57,"v":8.8,"s":"P"},{"t":17.19,"v":2.9,"s":"P"},{"t":17.67,"v":-0.7,"s":"P"},{"t":18.38,"v":4.4,"s":"P"},{"t":19.1,"v":1.5,"s":"P"},{"t":19.57,"v":5.1,"s":"P"},{"t":20.29,"v":2.2,"s":"P"},{"t":21,"v":5.8,"s":"P"},{"t":21.71,"v":2.6,"s":"P"},{"t":22.67,"v":4.4,"s":"P"},{"t":23.38,"v":2.2,"s":"P"},{"t":24.1,"v":5.1,"s":"P"},{"t":24.81,"v":6.6,"s":"P"},{"t":25.52,"v":4.4,"s":"P"},{"t":26.24,"v":4.4,"s":"P"},{"t":26.95,"v":1.5,"s":"P"},{"t":27.67,"v":5.8,"s":"P"},{"t":28.38,"v":2.2,"s":"P"},{"t":29.1,"v":4.4,"s":"P"},{"t":29.57,"v":0.7,"s":"P"},{"t":30,"v":2.2,"s":"P"}],
"cR":[{"n":1,"p":0.05,"v":0.06,"g":0.04},{"n":2,"p":0.03,"v":0.15,"g":0.08},{"n":3,"p":0.02,"v":0.1,"g":0.05},{"n":4,"p":0.28,"v":0.05,"g":0.09},{"n":5,"p":0.04,"v":0.08,"g":0.03},{"n":6,"p":0.06,"v":0.04,"g":0.06},{"n":7,"p":0.03,"v":0.06,"g":0.04},{"n":8,"p":0.08,"v":0.1,"g":0.05},{"n":9,"p":0.05,"v":0.05,"g":0.03},{"n":10,"p":0.04,"v":0.12,"g":0.07},
{"n":11,"p":0.15,"v":0.08,"g":0.05},{"n":12,"p":0.12,"v":0.06,"g":0.1},{"n":13,"p":0.06,"v":0.1,"g":0.06},{"n":14,"p":0.3,"v":0.3,"g":0.18},{"n":15,"p":0.22,"v":0.31,"g":0.12},{"n":16,"p":0.35,"v":0.12,"g":0.2},{"n":17,"p":0.1,"v":0.2,"g":0.15},{"n":18,"p":0.25,"v":0.15,"g":0.1},{"n":19,"p":0.45,"v":0.25,"g":0.18},{"n":20,"p":0.12,"v":0.08,"g":0.12},
{"n":21,"p":0.05,"v":0.05,"g":0.08},{"n":22,"p":0.08,"v":0.1,"g":0.15},{"n":23,"p":0.04,"v":0.06,"g":0.1},{"n":24,"p":0.03,"v":0.04,"g":0.06},{"n":25,"p":0.06,"v":0.08,"g":0.12},{"n":26,"p":0.25,"v":0.05,"g":0.05},{"n":27,"p":0.12,"v":0.12,"g":0.15},{"n":28,"p":0.24,"v":0.3,"g":0.1},{"n":29,"p":0.2,"v":0.25,"g":0.06},{"n":30,"p":0.05,"v":0.3,"g":0.2},
{"n":31,"p":0.03,"v":0.1,"g":0.08},{"n":32,"p":0.06,"v":0.06,"g":0.12},{"n":33,"p":0.12,"v":0.08,"g":0.05},{"n":34,"p":0.08,"v":0.05,"g":0.1},{"n":35,"p":0.14,"v":0.1,"g":0.06},{"n":36,"p":0.1,"v":0.04,"g":0.12},{"n":37,"p":0.05,"v":0.07,"g":0.08},{"n":38,"p":0.13,"v":0.12,"g":0.05},{"n":39,"p":0.04,"v":0.05,"g":0.1},{"n":40,"p":0.07,"v":0.08,"g":0.15},
{"n":41,"p":0.1,"v":0.1,"g":0.06},{"n":42,"p":0.06,"v":0.28,"g":0.08},{"n":43,"p":0.18,"v":0.06,"g":0.04},{"n":44,"p":0.05,"v":0.1,"g":0.1},{"n":45,"p":0.03,"v":0.05,"g":0.12},{"n":46,"p":0.08,"v":0.08,"g":0.05},{"n":47,"p":0.04,"v":0.12,"g":0.08},{"n":48,"p":0.06,"v":0.06,"g":0.15},{"n":49,"p":0.1,"v":0.28,"g":0.06},{"n":50,"p":0.45,"v":0.1,"g":0.2},
{"n":51,"p":0.1,"v":0.08,"g":0.1},{"n":52,"p":0.4,"v":0.05,"g":0.08},{"n":53,"p":0.08,"v":0.12,"g":0.05},{"n":54,"p":0.12,"v":0.06,"g":0.12},{"n":55,"p":0.05,"v":0.15,"g":0.18},{"n":56,"p":0.15,"v":0.08,"g":0.08},{"n":57,"p":0.2,"v":0.2,"g":0.15},{"n":58,"p":0.06,"v":0.05,"g":0.1},{"n":59,"p":0.1,"v":0.1,"g":0.06},{"n":60,"p":0.05,"v":0.22,"g":0.2},
{"n":61,"p":0.12,"v":0.08,"g":0.12},{"n":62,"p":0.08,"v":0.04,"g":0.08},{"n":63,"p":0.04,"v":0.06,"g":0.15},{"n":64,"p":0.58,"v":0.38,"g":0.42},{"n":65,"p":0.5,"v":0.35,"g":0.4},{"n":66,"p":0.35,"v":0.3,"g":0.15},{"n":67,"p":0.45,"v":0.25,"g":0.25},{"n":68,"p":0.3,"v":0.4,"g":0.12},{"n":69,"p":0.25,"v":0.2,"g":0.2},{"n":70,"p":0.2,"v":0.15,"g":0.1},
{"n":71,"p":0.3,"v":0.25,"g":0.18},{"n":72,"p":0.15,"v":0.1,"g":0.28},{"n":73,"p":0.22,"v":0.2,"g":0.12},{"n":74,"p":0.12,"v":0.3,"g":0.2},{"n":75,"p":0.28,"v":0.45,"g":0.28},{"n":76,"p":0.1,"v":0.15,"g":0.1},{"n":77,"p":0.2,"v":0.25,"g":0.15},{"n":78,"p":0.18,"v":0.45,"g":0.25},{"n":79,"p":0.08,"v":0.2,"g":0.12},{"n":80,"p":0.25,"v":0.1,"g":0.22},
{"n":81,"p":0.12,"v":0.3,"g":0.08},{"n":82,"p":0.06,"v":0.15,"g":0.15},{"n":83,"p":0.1,"v":0.08,"g":0.1},{"n":84,"p":0.15,"v":0.2,"g":0.2},{"n":85,"p":0.35,"v":0.12,"g":0.12},{"n":86,"p":0.08,"v":0.06,"g":0.18},{"n":87,"p":0.12,"v":0.15,"g":0.1},{"n":88,"p":0.05,"v":0.1,"g":0.3},{"n":89,"p":0.1,"v":0.05,"g":0.15},{"n":90,"p":0.18,"v":0.12,"g":0.1},
{"n":91,"p":0.25,"v":0.32,"g":0.2},{"n":92,"p":0.06,"v":0.1,"g":0.12},{"n":93,"p":0.1,"v":0.3,"g":0.52},{"n":94,"p":0.05,"v":0.08,"g":0.15},{"n":95,"p":0.38,"v":0.15,"g":0.2},{"n":96,"p":0.1,"v":0.12,"g":0.1},{"n":97,"p":0.15,"v":0.05,"g":0.12},{"n":98,"p":0.04,"v":0.1,"g":0.08},{"n":99,"p":0.08,"v":0.25,"g":0.15},{"n":100,"p":0.12,"v":0.08,"g":0.3},
{"n":101,"p":0.06,"v":0.12,"g":0.12},{"n":102,"p":0.1,"v":0.06,"g":0.1},{"n":103,"p":0.05,"v":0.15,"g":0.2},{"n":104,"p":0.2,"v":0.1,"g":0.08},{"n":105,"p":0.48,"v":0.44,"g":0.15},{"n":106,"p":0.15,"v":0.12,"g":0.12},{"n":107,"p":0.42,"v":0.2,"g":0.1},{"n":108,"p":0.1,"v":0.08,"g":0.2},{"n":109,"p":0.05,"v":0.15,"g":0.08},{"n":110,"p":0.45,"v":0.3,"g":0.25},
{"n":111,"p":0.3,"v":0.1,"g":0.12},{"n":112,"p":0.12,"v":0.05,"g":0.06},{"n":113,"p":0.08,"v":0.12,"g":0.15},{"n":114,"p":0.05,"v":0.08,"g":0.1},{"n":115,"p":0.04,"v":0.05,"g":0.08},{"n":116,"p":0.08,"v":0.1,"g":0.2},{"n":117,"p":0.03,"v":0.06,"g":0.12},{"n":118,"p":0.12,"v":0.15,"g":0.06},{"n":119,"p":0.06,"v":0.08,"g":0.15},{"n":120,"p":0.1,"v":0.22,"g":0.25},
{"n":121,"p":0.05,"v":0.05,"g":0.1},{"n":122,"p":0.14,"v":0.1,"g":0.08},{"n":123,"p":0.08,"v":0.12,"g":0.15},{"n":124,"p":0.04,"v":0.06,"g":0.12},{"n":125,"p":0.1,"v":0.15,"g":0.06},{"n":126,"p":0.06,"v":0.3,"g":0.3},{"n":127,"p":0.12,"v":0.08,"g":0.12},{"n":128,"p":0.05,"v":0.12,"g":0.08},{"n":129,"p":0.15,"v":0.05,"g":0.2},{"n":130,"p":0.08,"v":0.1,"g":0.1},
{"n":131,"p":0.04,"v":0.15,"g":0.15},{"n":132,"p":0.1,"v":0.08,"g":0.06},{"n":133,"p":0.06,"v":0.3,"g":0.3},{"n":134,"p":0.12,"v":0.06,"g":0.12},{"n":135,"p":0.05,"v":0.12,"g":0.08},{"n":136,"p":0.15,"v":0.05,"g":0.18},{"n":137,"p":0.08,"v":0.2,"g":0.1},{"n":138,"p":0.1,"v":0.1,"g":0.2},{"n":139,"p":0.2,"v":0.38,"g":0.12},{"n":140,"p":0.06,"v":0.08,"g":0.35},
{"n":141,"p":0.25,"v":0.15,"g":0.1},{"n":142,"p":0.1,"v":0.05,"g":0.15},{"n":143,"p":0.05,"v":0.12,"g":0.08},{"n":144,"p":0.12,"v":0.06,"g":0.2},{"n":145,"p":0.08,"v":0.1,"g":0.12},{"n":146,"p":0.15,"v":0.2,"g":0.1},{"n":147,"p":0.1,"v":0.08,"g":0.28},{"n":148,"p":0.46,"v":0.15,"g":0.12},{"n":149,"p":0.3,"v":0.05,"g":0.08},{"n":150,"p":0.12,"v":0.12,"g":0.4},
{"n":151,"p":0.08,"v":0.08,"g":0.15},{"n":152,"p":0.05,"v":0.15,"g":0.1},{"n":153,"p":0.1,"v":0.06,"g":0.2},{"n":154,"p":0.06,"v":0.1,"g":0.3},{"n":155,"p":0.15,"v":0.2,"g":0.12},{"n":156,"p":0.04,"v":0.3,"g":0.32},{"n":157,"p":0.08,"v":0.08,"g":0.1},{"n":158,"p":0.12,"v":0.12,"g":0.15},{"n":159,"p":0.05,"v":0.05,"g":0.2},{"n":160,"p":0.1,"v":0.15,"g":0.38},
{"n":161,"p":0.07,"v":0.08,"g":0.12},{"n":162,"p":0.15,"v":0.1,"g":0.25},{"n":163,"p":0.08,"v":0.06,"g":0.08},{"n":164,"p":0.5,"v":0.52,"g":0.15},{"n":165,"p":0.12,"v":0.2,"g":0.1},{"n":166,"p":0.3,"v":0.25,"g":0.2},{"n":167,"p":0.1,"v":0.08,"g":0.12},{"n":168,"p":0.05,"v":0.12,"g":0.08},{"n":169,"p":0.08,"v":0.05,"g":0.15},{"n":170,"p":0.15,"v":0.15,"g":0.25},
{"n":171,"p":0.06,"v":0.1,"g":0.1},{"n":172,"p":0.12,"v":0.2,"g":0.12},{"n":173,"p":0.3,"v":0.35,"g":0.2},{"n":174,"p":0.1,"v":0.08,"g":0.08},{"n":175,"p":0.05,"v":0.15,"g":0.4},{"n":176,"p":0.22,"v":0.12,"g":0.15},{"n":177,"p":0.38,"v":0.33,"g":0.1},{"n":178,"p":0.18,"v":0.1,"g":0.22},{"n":179,"p":0.08,"v":0.25,"g":0.12},{"n":180,"p":0.12,"v":0.06,"g":0.25},
{"n":181,"p":0.04,"v":0.12,"g":0.08},{"n":182,"p":0.1,"v":0.08,"g":0.15}],
"seg":[{"a":"PMd","n0":1,"n1":65},{"a":"M1","n0":65,"n1":114},{"a":"S1","n0":114,"n1":153},{"a":"SMA","n0":153,"n1":172},{"a":"M1ips","n0":172,"n1":182}],
"dD":[{"n":1,"r":0.055,"a":"PMd"},{"n":3.8,"r":0.12,"a":"PMd"},{"n":6.3,"r":0.18,"a":"PMd"},{"n":10,"r":0.19,"a":"PMd"},{"n":15,"r":0.29,"a":"PMd"},{"n":20,"r":0.33,"a":"PMd"},{"n":26,"r":0.37,"a":"PMd"},{"n":32,"r":0.4,"a":"PMd"},{"n":38,"r":0.42,"a":"PMd"},{"n":44,"r":0.44,"a":"PMd"},{"n":51,"r":0.455,"a":"PMd"},{"n":57,"r":0.465,"a":"PMd"},{"n":64,"r":0.48,"a":"PMd"},
{"n":1,"r":0.12,"a":"M1"},{"n":2.7,"r":0.3,"a":"M1"},{"n":5.2,"r":0.38,"a":"M1"},{"n":7.6,"r":0.46,"a":"M1"},{"n":11.3,"r":0.54,"a":"M1"},{"n":15,"r":0.58,"a":"M1"},{"n":20,"r":0.62,"a":"M1"},{"n":26,"r":0.64,"a":"M1"},{"n":32,"r":0.67,"a":"M1"},{"n":38,"r":0.7,"a":"M1"},{"n":44,"r":0.71,"a":"M1"},{"n":51,"r":0.725,"a":"M1"},{"n":56,"r":0.73,"a":"M1"},
{"n":1,"r":0.065,"a":"S1"},{"n":3,"r":0.14,"a":"S1"},{"n":6.4,"r":0.22,"a":"S1"},{"n":8.8,"r":0.26,"a":"S1"},{"n":11.3,"r":0.3,"a":"S1"},{"n":15,"r":0.33,"a":"S1"},{"n":19.2,"r":0.38,"a":"S1"},{"n":26,"r":0.42,"a":"S1"},{"n":32,"r":0.45,"a":"S1"},{"n":39,"r":0.48,"a":"S1"},
{"n":1,"r":0.07,"a":"SMA"},{"n":3.3,"r":0.2,"a":"SMA"},{"n":5.8,"r":0.33,"a":"SMA"},{"n":7.5,"r":0.38,"a":"SMA"},{"n":9.4,"r":0.42,"a":"SMA"},{"n":13,"r":0.46,"a":"SMA"},{"n":16,"r":0.49,"a":"SMA"},{"n":19,"r":0.505,"a":"SMA"},
{"n":1,"r":0.018,"a":"PP"},{"n":3.8,"r":0.045,"a":"PP"},{"n":7.5,"r":0.067,"a":"PP"},{"n":12.5,"r":0.08,"a":"PP"},{"n":20,"r":0.127,"a":"PP"},{"n":26,"r":0.147,"a":"PP"},{"n":32,"r":0.172,"a":"PP"},{"n":38,"r":0.19,"a":"PP"},{"n":44,"r":0.205,"a":"PP"},{"n":51,"r":0.225,"a":"PP"},{"n":57,"r":0.24,"a":"PP"},{"n":63,"r":0.24,"a":"PP"}],
"dE":[{"n":1,"r":0.04,"a":"PMd"},{"n":3,"r":0.07,"a":"PMd"},{"n":5,"r":0.12,"a":"PMd"},{"n":8,"r":0.14,"a":"PMd"},{"n":10,"r":0.15,"a":"PMd"},{"n":13,"r":0.2,"a":"PMd"},{"n":17,"r":0.24,"a":"PMd"},{"n":21,"r":0.27,"a":"PMd"},{"n":26,"r":0.3,"a":"PMd"},{"n":30,"r":0.33,"a":"PMd"},{"n":35,"r":0.35,"a":"PMd"},{"n":41,"r":0.38,"a":"PMd"},{"n":48,"r":0.4,"a":"PMd"},{"n":55,"r":0.42,"a":"PMd"},{"n":64,"r":0.45,"a":"PMd"},
{"n":1,"r":0.1,"a":"M1"},{"n":3,"r":0.22,"a":"M1"},{"n":5,"r":0.3,"a":"M1"},{"n":8,"r":0.37,"a":"M1"},{"n":11,"r":0.43,"a":"M1"},{"n":14,"r":0.48,"a":"M1"},{"n":19,"r":0.54,"a":"M1"},{"n":24,"r":0.58,"a":"M1"},{"n":29,"r":0.6,"a":"M1"},{"n":35,"r":0.62,"a":"M1"},{"n":41,"r":0.64,"a":"M1"},{"n":48,"r":0.655,"a":"M1"},{"n":56,"r":0.67,"a":"M1"},
{"n":1,"r":0.05,"a":"S1"},{"n":3,"r":0.09,"a":"S1"},{"n":6,"r":0.15,"a":"S1"},{"n":9,"r":0.19,"a":"S1"},{"n":12,"r":0.21,"a":"S1"},{"n":16,"r":0.23,"a":"S1"},{"n":20,"r":0.26,"a":"S1"},{"n":25,"r":0.28,"a":"S1"},{"n":30,"r":0.31,"a":"S1"},{"n":35,"r":0.33,"a":"S1"},{"n":39,"r":0.34,"a":"S1"},
{"n":1,"r":0.06,"a":"SMA"},{"n":3,"r":0.17,"a":"SMA"},{"n":5,"r":0.26,"a":"SMA"},{"n":8,"r":0.33,"a":"SMA"},{"n":11,"r":0.41,"a":"SMA"},{"n":14,"r":0.45,"a":"SMA"},{"n":17,"r":0.49,"a":"SMA"},{"n":19,"r":0.5,"a":"SMA"},
{"n":1,"r":0.04,"a":"PP"},{"n":3,"r":0.09,"a":"PP"},{"n":6,"r":0.16,"a":"PP"},{"n":9,"r":0.2,"a":"PP"},{"n":12,"r":0.22,"a":"PP"},{"n":16,"r":0.26,"a":"PP"},{"n":20,"r":0.29,"a":"PP"},{"n":25,"r":0.34,"a":"PP"},{"n":30,"r":0.38,"a":"PP"},{"n":35,"r":0.42,"a":"PP"},{"n":41,"r":0.45,"a":"PP"},{"n":48,"r":0.47,"a":"PP"},{"n":55,"r":0.49,"a":"PP"},{"n":63,"r":0.51,"a":"PP"}],
"dF":[{"n":1,"r":0.03,"a":"PMd"},{"n":3,"r":0.07,"a":"PMd"},{"n":5,"r":0.12,"a":"PMd"},{"n":7,"r":0.15,"a":"PMd"},{"n":10,"r":0.18,"a":"PMd"},{"n":13,"r":0.195,"a":"PMd"},{"n":17,"r":0.22,"a":"PMd"},{"n":21,"r":0.24,"a":"PMd"},{"n":25,"r":0.26,"a":"PMd"},{"n":29,"r":0.275,"a":"PMd"},{"n":33,"r":0.28,"a":"PMd"},{"n":37,"r":0.283,"a":"PMd"},{"n":39,"r":0.29,"a":"PMd"},
{"n":1,"r":0.22,"a":"M1"},{"n":1.7,"r":0.3,"a":"M1"},{"n":2.4,"r":0.4,"a":"M1"},{"n":4,"r":0.5,"a":"M1"},{"n":5.8,"r":0.57,"a":"M1"},{"n":7.7,"r":0.62,"a":"M1"},{"n":9.5,"r":0.68,"a":"M1"},{"n":12,"r":0.7,"a":"M1"},{"n":14,"r":0.74,"a":"M1"},{"n":18.3,"r":0.78,"a":"M1"},{"n":23.3,"r":0.81,"a":"M1"},{"n":28,"r":0.83,"a":"M1"},{"n":32.5,"r":0.835,"a":"M1"},
{"n":1,"r":0.03,"a":"S1"},{"n":3,"r":0.06,"a":"S1"},{"n":6,"r":0.08,"a":"S1"},{"n":9,"r":0.1,"a":"S1"},{"n":13,"r":0.12,"a":"S1"},{"n":17,"r":0.135,"a":"S1"},{"n":21,"r":0.15,"a":"S1"},
{"n":1,"r":0.03,"a":"SMA"},{"n":3,"r":0.06,"a":"SMA"},{"n":5,"r":0.09,"a":"SMA"},{"n":8,"r":0.12,"a":"SMA"},{"n":11,"r":0.15,"a":"SMA"},{"n":14,"r":0.18,"a":"SMA"},{"n":16,"r":0.19,"a":"SMA"},
{"n":1,"r":0.1,"a":"PP"},{"n":1.5,"r":0.25,"a":"PP"},{"n":2.5,"r":0.35,"a":"PP"},{"n":4,"r":0.42,"a":"PP"},{"n":6,"r":0.48,"a":"PP"},{"n":8,"r":0.55,"a":"PP"},{"n":10,"r":0.58,"a":"PP"},{"n":13,"r":0.62,"a":"PP"},{"n":17,"r":0.65,"a":"PP"},{"n":22,"r":0.68,"a":"PP"},{"n":30,"r":0.69,"a":"PP"},{"n":40,"r":0.71,"a":"PP"},{"n":50,"r":0.72,"a":"PP"},{"n":65,"r":0.73,"a":"PP"}],
"dG":[{"n":1,"r":0.1,"a":"Unit"},{"n":2.3,"r":0.2,"a":"Unit"},{"n":4.2,"r":0.3,"a":"Unit"},{"n":8,"r":0.36,"a":"Unit"},{"n":10,"r":0.42,"a":"Unit"},{"n":15.7,"r":0.5,"a":"Unit"},{"n":21.4,"r":0.53,"a":"Unit"},{"n":27,"r":0.56,"a":"Unit"},{"n":35,"r":0.585,"a":"Unit"},{"n":40.6,"r":0.61,"a":"Unit"},{"n":50,"r":0.64,"a":"Unit"},{"n":59.5,"r":0.665,"a":"Unit"},{"n":69,"r":0.685,"a":"Unit"},{"n":78,"r":0.7,"a":"Unit"},{"n":88,"r":0.71,"a":"Unit"},{"n":94,"r":0.715,"a":"Unit"},
{"n":1,"r":0.02,"a":"Multiunit"},{"n":2.5,"r":0.1,"a":"Multiunit"},{"n":4,"r":0.16,"a":"Multiunit"},{"n":6,"r":0.21,"a":"Multiunit"},{"n":8,"r":0.28,"a":"Multiunit"},{"n":10,"r":0.32,"a":"Multiunit"},{"n":13,"r":0.35,"a":"Multiunit"},{"n":16,"r":0.39,"a":"Multiunit"},{"n":20,"r":0.42,"a":"Multiunit"},{"n":25,"r":0.455,"a":"Multiunit"},{"n":32,"r":0.475,"a":"Multiunit"},{"n":40,"r":0.49,"a":"Multiunit"},{"n":48,"r":0.505,"a":"Multiunit"},{"n":55,"r":0.525,"a":"Multiunit"},{"n":62,"r":0.54,"a":"Multiunit"},{"n":70,"r":0.555,"a":"Multiunit"},{"n":77,"r":0.57,"a":"Multiunit"},{"n":84,"r":0.58,"a":"Multiunit"}],
"dH":[{"n":1,"r":0.05,"a":"Unit"},{"n":2.5,"r":0.15,"a":"Unit"},{"n":4,"r":0.26,"a":"Unit"},{"n":6,"r":0.3,"a":"Unit"},{"n":8,"r":0.35,"a":"Unit"},{"n":10,"r":0.4,"a":"Unit"},{"n":13,"r":0.44,"a":"Unit"},{"n":17,"r":0.47,"a":"Unit"},{"n":22,"r":0.5,"a":"Unit"},{"n":28,"r":0.53,"a":"Unit"},{"n":35,"r":0.56,"a":"Unit"},{"n":42,"r":0.595,"a":"Unit"},{"n":50,"r":0.615,"a":"Unit"},{"n":60,"r":0.634,"a":"Unit"},{"n":70,"r":0.645,"a":"Unit"},{"n":80,"r":0.655,"a":"Unit"},{"n":88,"r":0.665,"a":"Unit"},{"n":94,"r":0.67,"a":"Unit"},
{"n":1,"r":0.02,"a":"Multiunit"},{"n":3,"r":0.09,"a":"Multiunit"},{"n":5,"r":0.14,"a":"Multiunit"},{"n":8,"r":0.19,"a":"Multiunit"},{"n":11,"r":0.25,"a":"Multiunit"},{"n":15,"r":0.28,"a":"Multiunit"},{"n":20,"r":0.31,"a":"Multiunit"},{"n":26,"r":0.34,"a":"Multiunit"},{"n":33,"r":0.38,"a":"Multiunit"},{"n":40,"r":0.4,"a":"Multiunit"},{"n":44,"r":0.43,"a":"Multiunit"},{"n":50,"r":0.45,"a":"Multiunit"},{"n":57,"r":0.46,"a":"Multiunit"},{"n":64,"r":0.47,"a":"Multiunit"},{"n":70,"r":0.485,"a":"Multiunit"},{"n":77,"r":0.5,"a":"Multiunit"},{"n":84,"r":0.51,"a":"Multiunit"}],
"dI":[{"n":1,"r":0.09,"a":"Unit"},{"n":2.7,"r":0.17,"a":"Unit"},{"n":4.4,"r":0.22,"a":"Unit"},{"n":6,"r":0.28,"a":"Unit"},{"n":7.3,"r":0.34,"a":"Unit"},{"n":8.5,"r":0.47,"a":"Unit"},{"n":10.7,"r":0.52,"a":"Unit"},{"n":13,"r":0.57,"a":"Unit"},{"n":14,"r":0.6,"a":"Unit"},{"n":17.5,"r":0.625,"a":"Unit"},{"n":22,"r":0.66,"a":"Unit"},{"n":25,"r":0.7,"a":"Unit"},{"n":29,"r":0.73,"a":"Unit"},{"n":33,"r":0.75,"a":"Unit"},{"n":38,"r":0.775,"a":"Unit"},{"n":44.5,"r":0.79,"a":"Unit"},{"n":51,"r":0.81,"a":"Unit"},{"n":60,"r":0.825,"a":"Unit"},
{"n":1,"r":0.08,"a":"Multiunit"},{"n":2.5,"r":0.16,"a":"Multiunit"},{"n":4,"r":0.2,"a":"Multiunit"},{"n":6,"r":0.24,"a":"Multiunit"},{"n":8,"r":0.28,"a":"Multiunit"},{"n":10,"r":0.36,"a":"Multiunit"},{"n":12,"r":0.4,"a":"Multiunit"},{"n":14,"r":0.44,"a":"Multiunit"},{"n":17,"r":0.46,"a":"Multiunit"},{"n":19,"r":0.5,"a":"Multiunit"},{"n":22,"r":0.52,"a":"Multiunit"},{"n":25,"r":0.56,"a":"Multiunit"},{"n":28,"r":0.6,"a":"Multiunit"},{"n":31,"r":0.61,"a":"Multiunit"},{"n":34,"r":0.63,"a":"Multiunit"},{"n":37,"r":0.66,"a":"Multiunit"},{"n":40,"r":0.67,"a":"Multiunit"},{"n":43,"r":0.68,"a":"Multiunit"},{"n":47,"r":0.7,"a":"Multiunit"},{"n":51,"r":0.71,"a":"Multiunit"},{"n":56,"r":0.73,"a":"Multiunit"}]
},
"vconcat":[
{"hconcat":[
 {"vconcat":[
  {"width":345,"height":43,"view":{"strokeWidth":2},"title":{"text":"A","dx":-28,"offset":-3,"fontSize":18},"data":{"name":"aX"},
   "layer":[
    {"mark":{"type":"line","interpolate":"monotone","strokeWidth":1.8},"encoding":{
     "x":{"field":"t","type":"quantitative","scale":{"domain":[0,60],"nice":false},"axis":{"values":[20,40],"labels":false,"tickSize":-4,"tickWidth":2,"title":null}},
     "y":{"field":"v","type":"quantitative","scale":{"domain":[-50,56],"nice":false},"axis":{"values":[-50,0,50],"labelExpr":"''+datum.value","tickSize":-4,"tickWidth":2,"labelPadding":7,"labelFontSize":10.5,"title":"X","titleFontSize":11,"titlePadding":-2}},
     "color":{"field":"s","type":"nominal","scale":{"domain":["O","P"],"range":["#0000ff","#ff0000"]},"legend":null}}},
    {"mark":{"type":"line","opacity":0},"encoding":{
     "x":{"field":"t","type":"quantitative","scale":{"domain":[0,60],"nice":false},"axis":{"orient":"top","values":[20,40],"labels":false,"tickSize":-4,"tickWidth":2,"title":null}},
     "y":{"field":"v","type":"quantitative","scale":{"domain":[-50,56],"nice":false},"axis":{"orient":"right","values":[0],"labels":false,"tickSize":-4,"tickWidth":2,"title":null}}}}],
   "resolve":{"axis":{"x":"independent","y":"independent"}}},
  {"width":345,"height":43,"view":{"strokeWidth":2},"data":{"name":"aY"},
   "layer":[
    {"mark":{"type":"line","interpolate":"monotone","strokeWidth":1.8},"encoding":{
     "x":{"field":"t","type":"quantitative","scale":{"domain":[0,60],"nice":false},"axis":{"values":[20,40],"labels":false,"tickSize":-4,"tickWidth":2,"title":null}},
     "y":{"field":"v","type":"quantitative","scale":{"domain":[-50,56],"nice":false},"axis":{"values":[-50,0,50],"labelExpr":"''+datum.value","tickSize":-4,"tickWidth":2,"labelPadding":7,"labelFontSize":10.5,"title":"Y","titleFontSize":11,"titlePadding":-2}},
     "color":{"field":"s","type":"nominal","scale":{"domain":["O","P"],"range":["#0000ff","#ff0000"]},"legend":null}}},
    {"mark":{"type":"line","opacity":0},"encoding":{
     "x":{"field":"t","type":"quantitative","scale":{"domain":[0,60],"nice":false},"axis":{"orient":"top","values":[20,40],"labels":false,"tickSize":-4,"tickWidth":2,"title":null}},
     "y":{"field":"v","type":"quantitative","scale":{"domain":[-50,56],"nice":false},"axis":{"orient":"right","values":[0],"labels":false,"tickSize":-4,"tickWidth":2,"title":null}}}}],
   "resolve":{"axis":{"x":"independent","y":"independent"}}},
  {"width":345,"height":43,"view":{"strokeWidth":2},"data":{"name":"aVx"},
   "layer":[
    {"mark":{"type":"line","interpolate":"monotone","strokeWidth":1.8},"encoding":{
     "x":{"field":"t","type":"quantitative","scale":{"domain":[0,60],"nice":false},"axis":{"values":[20,40],"labels":false,"tickSize":-4,"tickWidth":2,"title":null}},
     "y":{"field":"v","type":"quantitative","scale":{"domain":[-20,20],"nice":false},"axis":{"values":[-20,0,20],"labelExpr":"''+datum.value","tickSize":-4,"tickWidth":2,"labelPadding":7,"labelFontSize":10.5,"title":"Vx","titleFontSize":11,"titlePadding":-2}},
     "color":{"field":"s","type":"nominal","scale":{"domain":["O","P"],"range":["#0000ff","#ff0000"]},"legend":null}}},
    {"mark":{"type":"line","opacity":0},"encoding":{
     "x":{"field":"t","type":"quantitative","scale":{"domain":[0,60],"nice":false},"axis":{"orient":"top","values":[20,40],"labels":false,"tickSize":-4,"tickWidth":2,"title":null}},
     "y":{"field":"v","type":"quantitative","scale":{"domain":[-20,20],"nice":false},"axis":{"orient":"right","values":[0],"labels":false,"tickSize":-4,"tickWidth":2,"title":null}}}}],
   "resolve":{"axis":{"x":"independent","y":"independent"}}},
  {"width":345,"height":43,"view":{"strokeWidth":2},"data":{"name":"aVy"},
   "layer":[
    {"mark":{"type":"line","interpolate":"monotone","strokeWidth":1.8},"encoding":{
     "x":{"field":"t","type":"quantitative","scale":{"domain":[0,60],"nice":false},"axis":{"values":[20,40],"labels":false,"tickSize":-4,"tickWidth":2,"title":null}},
     "y":{"field":"v","type":"quantitative","scale":{"domain":[-20,20],"nice":false},"axis":{"values":[-20,0,20],"labelExpr":"''+datum.value","tickSize":-4,"tickWidth":2,"labelPadding":7,"labelFontSize":10.5,"title":"Vy","titleFontSize":11,"titlePadding":-2}},
     "color":{"field":"s","type":"nominal","scale":{"domain":["O","P"],"range":["#0000ff","#ff0000"]},"legend":null}}},
    {"mark":{"type":"line","opacity":0},"encoding":{
     "x":{"field":"t","type":"quantitative","scale":{"domain":[0,60],"nice":false},"axis":{"orient":"top","values":[20,40],"labels":false,"tickSize":-4,"tickWidth":2,"title":null}},
     "y":{"field":"v","type":"quantitative","scale":{"domain":[-20,20],"nice":false},"axis":{"orient":"right","values":[0],"labels":false,"tickSize":-4,"tickWidth":2,"title":null}}}}],
   "resolve":{"axis":{"x":"independent","y":"independent"}}},
  {"width":345,"height":43,"view":{"strokeWidth":2},"data":{"name":"aG1"},
   "layer":[
    {"mark":{"type":"line","interpolate":"monotone","strokeWidth":1.8},"encoding":{
     "x":{"field":"t","type":"quantitative","scale":{"domain":[0,60],"nice":false},"axis":{"values":[20,40],"labels":false,"tickSize":-4,"tickWidth":2,"title":null}},
     "y":{"field":"v","type":"quantitative","scale":{"domain":[0,2.45],"nice":false},"axis":{"values":[0,1,2],"labelExpr":"''+datum.value","tickSize":-4,"tickWidth":2,"labelPadding":7,"labelFontSize":10.5,"title":"GF","titleFontSize":11,"titlePadding":-2}},
     "color":{"field":"s","type":"nominal","scale":{"domain":["O","P"],"range":["#0000ff","#ff0000"]},"legend":null}}},
    {"mark":{"type":"line","opacity":0},"encoding":{
     "x":{"field":"t","type":"quantitative","scale":{"domain":[0,60],"nice":false},"axis":{"orient":"top","values":[20,40],"labels":false,"tickSize":-4,"tickWidth":2,"title":null}},
     "y":{"field":"v","type":"quantitative","scale":{"domain":[0,2.45],"nice":false},"axis":{"orient":"right","values":[1,2],"labels":false,"tickSize":-4,"tickWidth":2,"title":null}}}}],
   "resolve":{"axis":{"x":"independent","y":"independent"}}},
  {"width":345,"height":43,"view":{"strokeWidth":2},"data":{"name":"aG2"},
   "layer":[
    {"mark":{"type":"line","interpolate":"monotone","strokeWidth":1.8},"encoding":{
     "x":{"field":"t","type":"quantitative","scale":{"domain":[0,60],"nice":false},"axis":{"values":[0,20,40,60],"tickSize":-4,"tickWidth":2,"labelPadding":10,"labelFontSize":11,"title":"Time (s)","titleFontSize":11,"titlePadding":3}},
     "y":{"field":"v","type":"quantitative","scale":{"domain":[0,1.2],"nice":false},"axis":{"values":[0,1],"labelExpr":"''+datum.value","tickSize":-4,"tickWidth":2,"labelPadding":7,"labelFontSize":10.5,"title":"GF","titleFontSize":11,"titlePadding":-2}},
     "color":{"field":"s","type":"nominal","scale":{"domain":["O","P"],"range":["#0000ff","#ff0000"]},"legend":{"orient":"none","legendX":82,"legendY":75,"direction":"horizontal","title":null,"symbolType":"stroke","symbolSize":529,"symbolStrokeWidth":2,"labelFontSize":10,"labelOffset":7,"columnPadding":24,"labelExpr":"datum.label=='O'?'Observed':'Predicted'"}}}},
    {"mark":{"type":"line","opacity":0},"encoding":{
     "x":{"field":"t","type":"quantitative","scale":{"domain":[0,60],"nice":false},"axis":{"orient":"top","values":[20,40],"labels":false,"tickSize":-4,"tickWidth":2,"title":null}},
     "y":{"field":"v","type":"quantitative","scale":{"domain":[0,1.2],"nice":false},"axis":{"orient":"right","values":[1],"labels":false,"tickSize":-4,"tickWidth":2,"title":null}}}}],
   "resolve":{"axis":{"x":"independent","y":"independent"}}}
 ],"spacing":13,"bounds":"flush","resolve":{"scale":{"color":"independent"}}},
 {"vconcat":[
  {"vconcat":[
   {"width":211,"height":52,"title":{"text":"B","dx":-26,"dy":7.3,"fontSize":18},"data":{"name":"bW"},
    "layer":[
     {"mark":{"type":"line","strokeWidth":1},"encoding":{
      "x":{"field":"t","type":"quantitative","scale":{"domain":[0,30],"nice":false},"axis":{"values":[10,20],"labels":false,"tickSize":-3,"title":null}},
      "y":{"field":"v","type":"quantitative","scale":{"domain":[-1.1,10.1],"nice":false},"axis":{"values":[0,5,10],"tickSize":-3,"labelPadding":4.5,"labelFontSize":7,"title":"mV","titleFontSize":6,"titlePadding":2}},
      "color":{"field":"s","type":"nominal","scale":{"domain":["O","P"],"range":["#0000ff","#ff0000"]},"legend":null}}},
     {"mark":{"type":"line","opacity":0},"encoding":{
      "x":{"field":"t","type":"quantitative","scale":{"domain":[0,30],"nice":false},"axis":{"orient":"top","values":[10,20],"labels":false,"tickSize":-3,"title":"Wrist Flexors","titleFontSize":7.5,"titleFontWeight":"bold","titlePadding":2}},
      "y":{"field":"v","type":"quantitative","scale":{"domain":[-1.1,10.1],"nice":false},"axis":{"orient":"right","values":[5],"labels":false,"tickSize":-3,"title":null}}}}],
    "resolve":{"axis":{"x":"independent","y":"independent"}}},
   {"width":211,"height":52,"data":{"name":"bT"},
    "layer":[
     {"mark":{"type":"line","strokeWidth":1},"encoding":{
      "x":{"field":"t","type":"quantitative","scale":{"domain":[0,30],"nice":false},"axis":{"values":[0,10,20,30],"tickSize":-3,"labelPadding":3.5,"labelFontSize":7,"labelFontWeight":"bold","title":"Time (s)","titleFontSize":7,"titleFontWeight":"bold","titlePadding":0}},
      "y":{"field":"v","type":"quantitative","scale":{"domain":[-2.2,20.4],"nice":false},"axis":{"values":[0,10,20],"tickSize":-3,"labelPadding":4.5,"labelFontSize":7,"title":"mV","titleFontSize":6,"titlePadding":2}},
      "color":{"field":"s","type":"nominal","scale":{"domain":["O","P"],"range":["#0000ff","#ff0000"]},"legend":null}}},
     {"mark":{"type":"line","opacity":0},"encoding":{
      "x":{"field":"t","type":"quantitative","scale":{"domain":[0,30],"nice":false},"axis":{"orient":"top","values":[10,20],"labels":false,"tickSize":-3,"title":"Trapezius","titleFontSize":7.5,"titleFontWeight":"bold","titlePadding":2}},
      "y":{"field":"v","type":"quantitative","scale":{"domain":[-2.2,20.4],"nice":false},"axis":{"orient":"right","values":[10],"labels":false,"tickSize":-3,"title":null}}}}],
    "resolve":{"axis":{"x":"independent","y":"independent"}}}
  ],"spacing":19,"bounds":"flush","resolve":{"scale":{"color":"independent"}}},
  {"vconcat":[
   {"width":211,"height":45,"title":{"text":"C","dx":-27,"dy":10.3,"fontSize":18},"data":{"name":"cR"},
    "mark":{"type":"rule","strokeWidth":1.2,"color":"#0000ff"},
    "encoding":{
     "x":{"field":"n","type":"quantitative","scale":{"domain":[1,182],"nice":false},"axis":{"orient":"top","labels":false,"ticks":false,"title":"Position","titleFontSize":7.5,"titleFontWeight":"bold","titlePadding":2}},
     "y":{"field":"p","type":"quantitative","scale":{"domain":[0,0.6],"nice":false},"axis":{"values":[0,0.3,0.6],"labelExpr":"''+datum.value","tickSize":-3,"labelPadding":5,"labelFontSize":7,"title":"R","titleFontSize":8,"titlePadding":3}},
     "y2":{"datum":0}}},
   {"width":211,"height":46,"data":{"name":"cR"},
    "mark":{"type":"rule","strokeWidth":1.2,"color":"#ff0000"},
    "encoding":{
     "x":{"field":"n","type":"quantitative","scale":{"domain":[1,182],"nice":false},"axis":{"orient":"top","labels":false,"ticks":false,"title":"Velocity","titleFontSize":7.5,"titleFontWeight":"bold","titlePadding":2}},
     "y":{"field":"v","type":"quantitative","scale":{"domain":[0,0.6],"nice":false},"axis":{"values":[0,0.3,0.6],"labelExpr":"''+datum.value","tickSize":-3,"labelPadding":5,"labelFontSize":7,"title":"R","titleFontSize":8,"titlePadding":3}},
     "y2":{"datum":0}}},
   {"width":211,"height":46,
    "layer":[
     {"data":{"name":"cR"},"mark":{"type":"rule","strokeWidth":1.2,"color":"#000000"},
      "encoding":{
       "x":{"field":"n","type":"quantitative","scale":{"domain":[1,182],"nice":false},"axis":{"orient":"top","labels":false,"ticks":false,"title":"Gripping Force","titleFontSize":7.5,"titleFontWeight":"bold","titlePadding":2}},
       "y":{"field":"g","type":"quantitative","scale":{"domain":[0,0.6],"nice":false},"axis":{"values":[0,0.3,0.6],"labelExpr":"''+datum.value","tickSize":-3,"labelPadding":5,"labelFontSize":7,"title":"R","titleFontSize":8,"titlePadding":3}},
       "y2":{"datum":0}}},
     {"data":{"name":"seg"},"mark":{"type":"bar"},
      "encoding":{
       "x":{"field":"n0","type":"quantitative","scale":{"domain":[1,182],"nice":false},"axis":{"orient":"bottom","values":[33,89.5,133.5,162.5],"labelExpr":"datum.value==33?'PMd':datum.value==89.5?'M1':datum.value==133.5?'S1':'SMA'","ticks":false,"labelFontSize":11,"labelPadding":20,"title":null}},
       "x2":{"field":"n1"},
       "y":{"datum":-0.1435,"type":"quantitative","scale":{"domain":[0,0.6],"nice":false},"axis":null},
       "y2":{"datum":-0.2087},
       "color":{"field":"a","type":"nominal","scale":{"domain":["PMd","M1","S1","SMA","M1ips"],"range":["#0000ff","#ff0000","#00ee00","#000000","#dd00ff"]},"legend":null}}},
     {"data":{"name":"seg"},"transform":[{"filter":"datum.a=='PMd'"}],"mark":{"type":"text","fontSize":7,"baseline":"middle","align":"center"},
      "encoding":{
       "x":{"field":"n0","type":"quantitative","scale":{"domain":[1,182],"nice":false},"axis":null},
       "y":{"datum":-0.078,"type":"quantitative","scale":{"domain":[0,0.6],"nice":false},"axis":null},
       "text":{"field":"n0","type":"quantitative"}}},
     {"data":{"name":"seg"},"transform":[{"filter":"datum.a=='M1ips'"}],"mark":{"type":"text","fontSize":7,"baseline":"middle","align":"center","dx":-2},
      "encoding":{
       "x":{"field":"n1","type":"quantitative","scale":{"domain":[1,182],"nice":false},"axis":null},
       "y":{"datum":-0.078,"type":"quantitative","scale":{"domain":[0,0.6],"nice":false},"axis":null},
       "text":{"field":"n1","type":"quantitative"}}},
     {"data":{"name":"seg"},"transform":[{"filter":"datum.a=='M1ips'"}],"mark":{"type":"rule","strokeWidth":1.5,"color":"black"},
      "encoding":{
       "x":{"datum":177,"type":"quantitative","scale":{"domain":[1,182],"nice":false},"axis":null},
       "y":{"datum":-0.2087,"type":"quantitative","scale":{"domain":[0,0.6],"nice":false},"axis":null},
       "y2":{"datum":-0.42}}},
     {"data":{"name":"seg"},"transform":[{"filter":"datum.a=='M1ips'"}],"mark":{"type":"point","shape":"triangle-down","filled":true,"color":"black","size":45,"opacity":1},
      "encoding":{
       "x":{"datum":177,"type":"quantitative","scale":{"domain":[1,182],"nice":false},"axis":null},
       "y":{"datum":-0.437,"type":"quantitative","scale":{"domain":[0,0.6],"nice":false},"axis":null}}},
     {"data":{"name":"seg"},"transform":[{"filter":"datum.a=='M1ips'"}],"mark":{"type":"text","fontSize":11,"baseline":"top","align":"center","dx":-8},
      "encoding":{
       "x":{"datum":177,"type":"quantitative","scale":{"domain":[1,182],"nice":false},"axis":null},
       "y":{"datum":-0.48,"type":"quantitative","scale":{"domain":[0,0.6],"nice":false},"axis":null},
       "text":{"value":"M1ips"}}}
    ],
    "resolve":{"axis":{"x":"independent"},"scale":{"color":"independent"}}}
  ],"spacing":15,"bounds":"flush"}
 ],"spacing":-12,"resolve":{"scale":{"color":"independent"}}}
],"spacing":5,"resolve":{"scale":{"color":"independent"}}},
{"concat":[
  {"width":174,"height":142,"title":{"text":"D","dx":-25,"dy":16},"data":{"name":"dD"},
   "layer":[
    {"mark":{"type":"line","strokeWidth":1.3},"encoding":{
     "x":{"field":"n","type":"quantitative","scale":{"domain":[1,65],"nice":false},"axis":{"values":[1,20,40,60],"tickSize":-3,"labelPadding":6,"labelFontSize":8.5,"title":"Number of Neurons","titleFontSize":8.5,"titlePadding":0}},
     "y":{"field":"r","type":"quantitative","scale":{"domain":[0,0.85],"nice":false},"axis":{"values":[0,0.2,0.4,0.6,0.8],"labelExpr":"''+datum.value","tickSize":-3,"labelPadding":4,"labelFontSize":8.5,"title":"R² of Prediction","titleFontSize":8.5,"titlePadding":2}},
     "color":{"field":"a","type":"nominal","scale":{"domain":["PMd","M1","S1","SMA","PP"],"range":["#0000ff","#ff0000","#00dd00","#000000","#33eecc"]},"legend":null}}},
    {"mark":{"type":"line","opacity":0},"encoding":{
     "x":{"field":"n","type":"quantitative","scale":{"domain":[1,65],"nice":false},"axis":{"orient":"top","values":[20,40,60],"labels":false,"tickSize":-3,"title":"Position","titleFontSize":8,"titlePadding":4}},
     "y":{"field":"r","type":"quantitative","scale":{"domain":[0,0.85],"nice":false},"axis":{"orient":"right","values":[0.2,0.4,0.6,0.8],"labels":false,"tickSize":-3,"title":null}}}}],
   "resolve":{"axis":{"x":"independent","y":"independent"}}},
  {"width":174,"height":142,"title":{"text":"E","dx":-22,"dy":16},"data":{"name":"dE"},
   "layer":[
    {"mark":{"type":"line","strokeWidth":1.3},"encoding":{
     "x":{"field":"n","type":"quantitative","scale":{"domain":[1,65],"nice":false},"axis":{"values":[1,20,40,60],"tickSize":-3,"labelPadding":6,"labelFontSize":8.5,"title":"Number of Neurons","titleFontSize":8.5,"titlePadding":0}},
     "y":{"field":"r","type":"quantitative","scale":{"domain":[0,0.85],"nice":false},"axis":{"values":[0,0.2,0.4,0.6,0.8],"labelExpr":"''+datum.value","tickSize":-3,"labelPadding":4,"labelFontSize":8.5,"title":"R² of Prediction","titleFontSize":8.5,"titlePadding":2}},
     "color":{"field":"a","type":"nominal","scale":{"domain":["PMd","M1","S1","SMA","PP"],"range":["#0000ff","#ff0000","#00dd00","#000000","#33eecc"]},"legend":null}}},
    {"mark":{"type":"line","opacity":0},"encoding":{
     "x":{"field":"n","type":"quantitative","scale":{"domain":[1,65],"nice":false},"axis":{"orient":"top","values":[20,40,60],"labels":false,"tickSize":-3,"title":"Velocity","titleFontSize":8,"titlePadding":4}},
     "y":{"field":"r","type":"quantitative","scale":{"domain":[0,0.85],"nice":false},"axis":{"orient":"right","values":[0.2,0.4,0.6,0.8],"labels":false,"tickSize":-3,"title":null}}}}],
   "resolve":{"axis":{"x":"independent","y":"independent"}}},
  {"width":174,"height":142,"title":{"text":"F","dx":-24,"dy":16},"data":{"name":"dF"},
   "layer":[
    {"mark":{"type":"line","strokeWidth":1.3},"encoding":{
     "x":{"field":"n","type":"quantitative","scale":{"domain":[1,65],"nice":false},"axis":{"values":[1,20,40,60],"tickSize":-3,"labelPadding":6,"labelFontSize":8.5,"title":"Number of Neurons","titleFontSize":8.5,"titlePadding":0}},
     "y":{"field":"r","type":"quantitative","scale":{"domain":[0,0.85],"nice":false},"axis":{"values":[0,0.2,0.4,0.6,0.8],"labelExpr":"''+datum.value","tickSize":-3,"labelPadding":4,"labelFontSize":8.5,"title":"R² of Prediction","titleFontSize":8.5,"titlePadding":2}},
     "color":{"field":"a","type":"nominal","scale":{"domain":["PMd","M1","S1","SMA","PP"],"range":["#0000ff","#ff0000","#00dd00","#000000","#33eecc"]},"legend":{"orient":"bottom-right","offset":2,"title":null,"symbolType":"stroke","symbolSize":196,"symbolStrokeWidth":1.5,"labelFontSize":8,"labelOffset":4,"rowPadding":1,"padding":3,"strokeColor":"black","fillColor":"white"}}}},
    {"mark":{"type":"line","opacity":0},"encoding":{
     "x":{"field":"n","type":"quantitative","scale":{"domain":[1,65],"nice":false},"axis":{"orient":"top","values":[20,40,60],"labels":false,"tickSize":-3,"title":"Gripping Force","titleFontSize":8,"titlePadding":4}},
     "y":{"field":"r","type":"quantitative","scale":{"domain":[0,0.85],"nice":false},"axis":{"orient":"right","values":[0.2,0.4,0.6,0.8],"labels":false,"tickSize":-3,"title":null}}}}],
   "resolve":{"axis":{"x":"independent","y":"independent"}}},
  {"width":174,"height":142,"title":{"text":" G","dx":-29,"dy":16},"data":{"name":"dG"},
   "layer":[
    {"mark":{"type":"line","strokeWidth":1.3},"encoding":{
     "x":{"field":"n","type":"quantitative","scale":{"domain":[1,100],"nice":false},"axis":{"values":[1,20,40,60,80,100],"tickSize":-3,"labelPadding":6,"labelFontSize":8.5,"title":"Number of Neurons","titleFontSize":8.5,"titlePadding":0}},
     "y":{"field":"r","type":"quantitative","scale":{"domain":[0,0.85],"nice":false},"axis":{"values":[0,0.2,0.4,0.6,0.8],"labelExpr":"''+datum.value","tickSize":-3,"labelPadding":4,"labelFontSize":8.5,"title":"R² of Prediction","titleFontSize":8.5,"titlePadding":2}},
     "color":{"field":"a","type":"nominal","scale":{"domain":["Unit","Multiunit"],"range":["#0000ff","#ff0000"]},"legend":null}}},
    {"mark":{"type":"line","opacity":0},"encoding":{
     "x":{"field":"n","type":"quantitative","scale":{"domain":[1,100],"nice":false},"axis":{"orient":"top","values":[20,40,60,80],"labels":false,"tickSize":-3,"title":"Position","titleFontSize":8,"titlePadding":4}},
     "y":{"field":"r","type":"quantitative","scale":{"domain":[0,0.85],"nice":false},"axis":{"orient":"right","values":[0.2,0.4,0.6,0.8],"labels":false,"tickSize":-3,"title":null}}}}],
   "resolve":{"axis":{"x":"independent","y":"independent"}}},
  {"width":174,"height":142,"title":{"text":"H","dx":-23,"dy":16},"data":{"name":"dH"},
   "layer":[
    {"mark":{"type":"line","strokeWidth":1.3},"encoding":{
     "x":{"field":"n","type":"quantitative","scale":{"domain":[1,100],"nice":false},"axis":{"values":[1,20,40,60,80,100],"tickSize":-3,"labelPadding":6,"labelFontSize":8.5,"title":"Number of Neurons","titleFontSize":8.5,"titlePadding":0}},
     "y":{"field":"r","type":"quantitative","scale":{"domain":[0,0.85],"nice":false},"axis":{"values":[0,0.2,0.4,0.6,0.8],"labelExpr":"''+datum.value","tickSize":-3,"labelPadding":4,"labelFontSize":8.5,"title":"R² of Prediction","titleFontSize":8.5,"titlePadding":2}},
     "color":{"field":"a","type":"nominal","scale":{"domain":["Unit","Multiunit"],"range":["#0000ff","#ff0000"]},"legend":null}}},
    {"mark":{"type":"line","opacity":0},"encoding":{
     "x":{"field":"n","type":"quantitative","scale":{"domain":[1,100],"nice":false},"axis":{"orient":"top","values":[20,40,60,80],"labels":false,"tickSize":-3,"title":"Velocity","titleFontSize":8,"titlePadding":4}},
     "y":{"field":"r","type":"quantitative","scale":{"domain":[0,0.85],"nice":false},"axis":{"orient":"right","values":[0.2,0.4,0.6,0.8],"labels":false,"tickSize":-3,"title":null}}}}],
   "resolve":{"axis":{"x":"independent","y":"independent"}}},
  {"width":174,"height":142,"title":{"text":"I","dx":-22,"dy":16},"data":{"name":"dI"},
   "layer":[
    {"mark":{"type":"line","strokeWidth":1.3},"encoding":{
     "x":{"field":"n","type":"quantitative","scale":{"domain":[1,60],"nice":false},"axis":{"values":[1,20,40,60],"tickSize":-3,"labelPadding":6,"labelFontSize":8.5,"title":"Number of Neurons","titleFontSize":8.5,"titlePadding":0}},
     "y":{"field":"r","type":"quantitative","scale":{"domain":[0,0.85],"nice":false},"axis":{"values":[0,0.2,0.4,0.6,0.8],"labelExpr":"''+datum.value","tickSize":-3,"labelPadding":4,"labelFontSize":8.5,"title":"R² of Prediction","titleFontSize":8.5,"titlePadding":2}},
     "color":{"field":"a","type":"nominal","scale":{"domain":["Unit","Multiunit"],"range":["#0000ff","#ff0000"]},"legend":{"orient":"bottom-right","offset":2,"title":null,"symbolType":"stroke","symbolSize":196,"symbolStrokeWidth":1.5,"labelFontSize":8,"labelOffset":4,"rowPadding":1,"padding":3,"strokeColor":"black","fillColor":"white"}}}},
    {"mark":{"type":"line","opacity":0},"encoding":{
     "x":{"field":"n","type":"quantitative","scale":{"domain":[1,60],"nice":false},"axis":{"orient":"top","values":[20,40],"labels":false,"tickSize":-3,"title":"Gripping Force","titleFontSize":8,"titlePadding":4}},
     "y":{"field":"r","type":"quantitative","scale":{"domain":[0,0.85],"nice":false},"axis":{"orient":"right","values":[0.2,0.4,0.6,0.8],"labels":false,"tickSize":-3,"title":null}}}}],
   "resolve":{"axis":{"x":"independent","y":"independent"}}}
 ],"columns":3,"spacing":{"row":48,"column":39},"bounds":"flush","resolve":{"scale":{"color":"independent"}}}
],
"spacing":17,"resolve":{"scale":{"color":"independent"}}
}
